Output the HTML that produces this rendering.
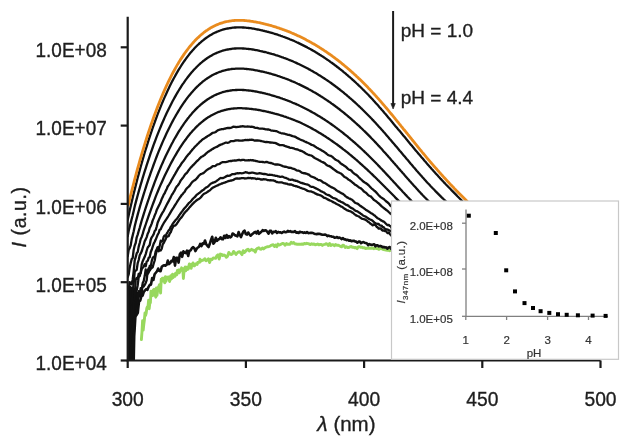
<!DOCTYPE html>
<html><head><meta charset="utf-8"><style>
html,body{margin:0;padding:0;background:#fff;width:632px;height:445px;overflow:hidden}
svg{display:block;filter:blur(0.35px)}
</style></head><body>
<svg width="632" height="445" viewBox="0 0 632 445">
<defs><clipPath id="pc"><rect x="127" y="0" width="480" height="360.5"/></clipPath></defs>
<g clip-path="url(#pc)" fill="none" stroke-linejoin="round" stroke-linecap="round">
<path d="M141.4,339.6 L142.0,331.6 L142.6,320.7 L143.2,330.0 L143.8,324.3 L144.4,319.7 L145.0,312.9 L145.6,315.3 L146.2,313.1 L146.8,308.3 L147.4,306.8 L148.0,306.6 L148.6,300.3 L149.2,308.7 L149.8,303.2 L150.4,302.6 L151.0,291.3 L151.6,293.1 L152.2,295.7 L152.8,293.8 L153.4,289.8 L154.0,289.3 L154.6,295.1 L155.2,295.1 L155.8,297.2 L156.4,287.9 L157.0,295.2 L157.6,290.7 L158.2,287.6 L158.8,286.2 L159.4,284.7 L160.0,287.0 L160.6,293.0 L161.2,279.3 L161.8,280.6 L162.4,278.2 L163.0,281.0 L163.6,278.2 L164.2,280.3 L164.8,282.8 L165.4,276.8 L166.0,281.2 L166.6,278.5 L167.2,277.2 L167.8,277.1 L168.4,277.0 L169.0,278.8 L169.6,281.5 L170.2,276.9 L170.8,275.7 L171.4,279.0 L172.0,277.6 L172.6,274.1 L173.2,277.5 L173.8,274.6 L174.4,275.5 L175.0,276.3 L175.6,273.2 L176.2,273.7 L176.8,274.7 L177.4,270.4 L178.0,272.3 L178.6,270.0 L179.2,272.8 L179.8,271.7 L180.4,269.7 L181.0,270.0 L181.6,267.8 L182.2,270.5 L182.8,268.7 L183.4,278.5 L184.0,271.2 L184.6,268.4 L185.2,267.1 L185.8,270.7 L186.4,267.2 L187.0,269.7 L187.6,268.3 L188.2,269.1 L188.8,266.2 L189.4,264.0 L190.0,265.4 L190.6,266.1 L191.2,268.3 L191.8,264.1 L192.4,265.8 L193.0,262.9 L193.6,264.1 L194.2,265.9 L194.8,265.5 L195.4,264.4 L196.0,263.7 L196.6,264.0 L197.2,264.4 L197.8,262.5 L198.4,262.3 L199.0,262.4 L199.6,262.4 L200.0,259.3 L201.2,260.9 L202.4,260.2 L203.6,260.1 L204.8,258.7 L206.0,260.7 L207.2,260.0 L208.4,258.8 L209.6,262.5 L210.8,259.2 L212.0,259.6 L213.2,258.0 L214.4,258.1 L215.6,258.4 L216.8,255.9 L218.0,254.7 L219.2,259.0 L220.4,254.1 L221.6,254.4 L222.8,255.6 L224.0,254.9 L225.2,255.7 L226.4,257.3 L227.6,256.1 L228.8,252.4 L230.0,253.9 L231.2,254.6 L232.4,253.9 L233.6,251.4 L234.8,252.7 L236.0,254.5 L237.2,252.9 L238.4,252.0 L239.6,251.8 L240.8,253.1 L242.0,254.6 L243.2,250.7 L244.4,252.5 L245.6,251.2 L246.8,249.8 L248.0,249.2 L249.2,250.9 L250.4,250.2 L251.6,249.3 L252.8,250.2 L254.0,250.2 L255.2,252.1 L256.4,249.1 L257.6,248.3 L258.8,247.8 L260.0,249.1 L261.2,249.2 L262.4,248.0 L263.6,248.9 L264.8,247.9 L266.0,247.3 L267.2,246.7 L268.4,246.7 L269.6,246.4 L270.8,245.6 L272.0,244.9 L273.2,244.8 L274.4,246.5 L275.6,245.0 L276.8,246.7 L278.0,244.1 L279.2,245.0 L280.4,244.7 L281.6,243.8 L282.8,243.4 L284.0,243.9 L285.2,245.2 L286.4,243.6 L287.6,244.3 L288.8,244.2 L290.0,244.2 L291.2,242.3 L292.4,243.2 L293.6,242.4 L294.8,243.9 L296.0,244.0 L297.2,244.2 L298.4,244.1 L299.6,244.3 L300.8,244.3 L302.0,244.0 L303.2,244.2 L304.4,243.4 L305.6,243.9 L306.8,243.3 L308.0,243.6 L309.2,244.0 L310.4,244.6 L311.6,243.8 L312.8,244.3 L314.0,244.0 L315.2,244.7 L316.4,244.5 L317.6,244.0 L318.8,244.8 L320.0,244.5 L321.2,244.4 L322.4,245.4 L323.6,244.6 L324.8,244.4 L326.0,243.7 L327.2,244.1 L328.4,245.4 L329.6,243.4 L330.8,245.6 L332.0,244.6 L333.2,244.7 L334.4,245.8 L335.6,244.6 L336.8,245.2 L338.0,245.2 L339.2,245.6 L340.4,246.4 L341.6,246.8 L342.8,245.2 L344.0,245.7 L345.2,247.5 L346.4,246.8 L347.6,247.5 L348.8,247.5 L350.0,246.8 L351.2,246.5 L352.4,247.4 L353.6,247.3 L354.8,247.9 L356.0,247.5 L357.2,248.6 L358.4,246.7 L359.6,246.8 L360.8,247.4 L362.0,247.2 L363.2,247.9 L364.4,247.6 L365.6,248.6 L366.8,248.1 L368.0,248.4 L369.2,248.0 L370.4,248.3 L371.6,248.2 L372.8,248.0 L374.0,248.7 L375.2,247.7 L376.4,248.5 L377.6,248.5 L378.8,249.4 L380.0,248.8 L381.2,248.2 L382.4,249.1 L383.6,249.5 L384.8,249.7 L386.0,250.1 L387.2,250.2 L388.4,250.2 L389.6,250.8 L390.8,250.2" stroke="#98d85e" stroke-width="2.9"/>
<path d="M133.0,396.5 L134.2,336.2 L135.4,316.4 L136.6,314.9 L137.8,312.9 L139.0,301.7 L140.2,300.6 L141.4,296.1 L142.6,295.7 L143.8,291.8 L145.0,290.4 L146.2,289.2 L147.4,289.8 L148.6,286.8 L149.8,284.8 L151.0,284.6 L152.2,278.0 L153.4,279.9 L154.6,274.2 L155.8,272.7 L157.0,271.2 L158.2,268.5 L159.4,271.0 L160.6,271.2 L161.8,266.7 L163.0,265.7 L164.2,265.3 L165.4,265.7 L166.6,265.0 L167.8,260.6 L169.0,264.1 L170.2,263.1 L171.4,260.8 L172.6,261.3 L173.8,257.0 L175.0,265.6 L176.2,257.8 L177.4,257.7 L178.6,262.6 L179.8,254.2 L181.0,252.6 L182.2,256.8 L183.4,251.3 L184.6,252.8 L185.8,253.1 L187.0,250.6 L188.2,255.9 L189.4,250.8 L190.6,250.4 L191.8,248.3 L193.0,247.2 L194.2,248.0 L195.4,251.1 L196.6,248.9 L197.8,247.5 L199.0,246.8 L200.2,243.9 L201.4,246.1 L202.6,243.4 L203.8,244.0 L205.0,240.5 L206.2,244.2 L207.4,245.8 L208.6,247.0 L209.8,243.8 L211.0,239.9 L212.2,236.8 L213.4,243.7 L214.6,242.1 L215.8,237.8 L217.0,240.9 L218.2,239.5 L219.4,239.0 L220.6,237.3 L221.8,239.1 L223.0,239.2 L224.2,235.8 L225.4,238.0 L226.6,235.0 L227.8,237.7 L229.0,236.1 L230.2,237.4 L231.4,236.6 L232.6,233.5 L233.8,234.1 L235.0,235.3 L236.2,235.8 L237.4,236.3 L238.6,232.0 L239.8,234.9 L241.0,237.1 L242.2,234.1 L243.4,231.5 L244.6,230.7 L245.8,234.1 L247.0,234.6 L248.2,232.5 L249.4,234.2 L250.6,235.7 L251.8,234.6 L253.0,233.6 L254.2,232.5 L255.4,231.9 L256.6,233.5 L257.8,231.0 L259.0,233.8 L260.2,232.8 L261.4,231.8 L262.6,230.2 L263.8,231.0 L265.0,230.3 L266.2,230.6 L267.4,232.0 L268.6,233.6 L269.8,230.7 L271.0,230.9 L272.2,233.4 L273.4,231.8 L274.6,232.0 L275.8,231.2 L277.0,233.0 L278.2,231.8 L279.4,232.4 L280.6,232.4 L281.8,233.0 L283.0,232.2 L284.2,231.5 L285.4,232.3 L286.6,231.9 L287.8,230.9 L289.0,231.6 L290.2,231.1 L291.4,231.9 L292.6,231.8 L293.8,231.9 L295.0,231.2 L296.2,232.6 L297.4,232.4 L298.6,233.0 L299.8,231.7 L301.0,232.2 L302.2,232.2 L303.4,232.9 L304.6,232.3 L305.8,233.0 L307.0,232.1 L308.2,233.1 L309.4,233.0 L310.6,232.9 L311.8,232.9 L313.0,233.0 L314.2,233.7 L315.4,234.0 L316.6,234.1 L317.8,233.9 L319.0,233.8 L320.2,234.0 L321.4,234.4 L322.6,234.8 L323.8,234.7 L325.0,234.6 L326.2,234.9 L327.4,236.2 L328.6,235.6 L329.8,236.2 L331.0,236.2 L332.2,236.8 L333.4,236.8 L334.6,237.8 L335.8,237.5 L337.0,237.0 L338.2,237.9 L339.4,237.5 L340.6,238.2 L341.8,239.1 L343.0,238.1 L344.2,239.4 L345.4,239.3 L346.6,240.1 L347.8,239.8 L349.0,240.6 L350.2,240.4 L351.4,241.2 L352.6,240.9 L353.8,240.7 L355.0,241.4 L356.2,241.6 L357.4,242.7 L358.6,241.6 L359.8,241.5 L361.0,243.2 L362.2,242.4 L363.4,242.1 L364.6,242.7 L365.8,243.1 L367.0,243.5 L368.2,245.1 L369.4,244.1 L370.6,244.7 L371.8,244.9 L373.0,244.6 L374.2,244.2 L375.4,246.3 L376.6,245.3 L377.8,245.4 L379.0,246.4 L380.2,245.9 L381.4,246.3 L382.6,247.3 L383.8,246.9 L385.0,247.5 L386.2,247.4 L387.4,248.7 L388.6,247.4 L389.8,247.0 L391.0,248.8" stroke="#111" stroke-width="2.6"/>
<polygon points="126.5,361 126.5,288 129,285 134,288 139,293 139.5,300 136,318 134.5,340 134,361" fill="#111"/>
<path d="M127.7,368.0 L128.7,356.7 L129.7,351.7 L130.7,359.5 L131.7,350.0 L132.7,344.8 L133.7,330.5 L134.7,317.1 L135.7,314.3 L136.7,304.0 L137.7,299.4 L138.7,297.1 L139.7,294.2 L140.7,288.2 L141.7,289.3 L142.7,285.1 L143.7,286.5 L144.7,284.9 L145.7,282.9 L146.7,280.2 L147.7,270.7 L148.7,268.3 L149.7,270.6 L150.7,269.0 L151.7,267.9 L152.7,267.3 L153.7,263.5 L154.7,260.5 L155.7,254.8 L156.7,251.0 L157.7,249.6 L158.7,251.2 L159.7,250.1 L160.7,250.5 L161.7,248.7 L162.7,244.4 L163.7,243.0 L164.7,240.9 L165.7,239.2 L166.7,236.3 L167.7,236.5 L168.7,236.2 L169.7,233.5 L170.7,232.3 L171.7,229.6 L172.7,227.5 L173.7,225.9 L174.7,225.6 L175.7,225.1 L176.7,223.9 L177.7,222.4 L178.7,220.8 L179.7,219.4 L180.7,218.1 L181.7,217.1 L182.7,215.7 L183.7,214.0 L184.7,212.7 L185.7,211.6 L186.7,210.7 L187.7,209.5 L188.7,208.4 L189.7,207.1 L190.7,206.1 L191.7,204.9 L192.7,203.9 L193.7,202.9 L194.7,201.9 L195.7,201.1 L196.7,200.2 L197.7,199.5 L198.7,199.1 L199.7,198.4 L200.7,197.5 L201.7,196.2 L202.7,195.0 L203.7,194.0 L204.7,193.5 L205.7,193.0 L206.7,192.4 L207.7,191.7 L208.7,191.0 L209.7,190.5 L210.7,189.5 L211.7,188.4 L212.7,187.8 L213.7,187.2 L214.7,186.7 L215.7,186.2 L216.7,185.8 L217.7,185.4 L218.7,184.8 L219.7,184.4 L220.7,184.0 L221.7,183.5 L222.7,183.3 L223.7,182.8 L224.7,182.7 L225.7,182.1 L226.7,181.8 L227.7,181.4 L228.7,181.0 L229.7,180.9 L230.7,180.5 L231.7,180.5 L232.7,180.2 L233.7,179.7 L234.7,179.0 L235.7,178.6 L236.7,178.4 L237.7,178.5 L238.7,178.6 L239.7,178.5 L240.7,178.4 L241.7,178.2 L242.7,178.2 L243.7,178.1 L244.7,178.5 L245.7,178.4 L246.7,178.3 L247.7,178.0 L248.7,177.9 L249.7,178.1 L250.7,178.0 L251.7,178.5 L252.7,178.2 L253.7,178.4 L254.7,178.3 L255.7,178.8 L256.7,179.0 L257.7,178.7 L258.7,178.8 L259.7,178.9 L260.7,179.5 L261.7,179.4 L262.7,179.5 L263.7,179.1 L264.7,179.3 L265.7,179.3 L266.7,179.7 L267.7,180.1 L268.7,180.2 L269.7,180.4 L270.7,180.2 L271.7,180.4 L272.7,180.3 L273.7,180.5 L274.7,180.8 L275.7,181.5 L276.7,182.0 L277.7,182.2 L278.7,182.3 L279.7,182.3 L280.7,182.4 L281.7,182.4 L282.7,182.8 L283.7,183.2 L284.7,183.3 L285.7,183.5 L286.7,183.6 L287.7,184.2 L288.7,184.4 L289.7,184.5 L290.7,184.4 L291.7,184.7 L292.7,185.1 L293.7,185.6 L294.7,185.8 L295.7,186.3 L296.7,186.2 L297.7,186.9 L298.7,186.9 L299.7,187.5 L300.7,187.9 L301.7,188.3 L302.7,188.7 L303.7,188.8 L304.7,189.2 L305.7,189.7 L306.7,190.4 L307.7,190.9 L308.7,191.2 L309.7,191.3 L310.7,191.4 L311.7,191.7 L312.7,192.1 L313.7,192.5 L314.7,193.1 L315.7,193.6 L316.7,194.1 L317.7,194.6 L318.7,194.7 L319.7,195.2 L320.7,195.3 L321.7,196.1 L322.7,196.7 L323.7,197.6 L324.7,197.9 L325.7,198.3 L326.7,198.8 L327.7,199.4 L328.7,199.9 L329.7,200.4 L330.7,200.8 L331.7,201.2 L332.7,201.9 L333.7,202.4 L334.7,202.8 L335.7,203.4 L336.7,204.0 L337.7,204.5 L338.7,205.0 L339.7,205.6 L340.7,206.3 L341.7,206.6 L342.7,207.3 L343.7,208.1 L344.7,208.9 L345.7,209.3 L346.7,210.1 L347.7,210.4 L348.7,210.9 L349.7,211.1 L350.7,211.5 L351.7,212.1 L352.7,212.6 L353.7,213.5 L354.7,214.4 L355.7,215.1 L356.7,215.6 L357.7,216.0 L358.7,216.3 L359.7,217.2 L360.7,217.8 L361.7,218.6 L362.7,218.8 L363.7,219.2 L364.7,219.4 L365.7,219.9 L366.7,220.5 L367.7,221.6 L368.7,222.0 L369.7,223.0 L370.7,223.8 L371.7,224.4 L372.7,225.4 L373.7,224.4 L374.7,224.9 L375.7,225.3 L376.7,226.9 L377.7,227.4 L378.7,228.7 L379.7,228.5 L380.7,228.4 L381.7,229.8 L382.7,230.7 L383.7,230.4 L384.7,231.0 L385.7,231.0 L386.7,232.1 L387.7,233.1 L388.7,232.4 L389.7,234.0 L390.7,234.9 L391.7,236.0 L392.7,236.2 L393.7,235.9 L394.7,235.2 L395.7,237.1 L396.7,237.3 L397.7,238.0 L398.7,239.4 L399.7,240.5 L400.7,241.8 L401.7,239.6 L402.7,238.2 L403.7,239.6 L404.7,242.1 L405.7,241.4 L406.7,241.3 L407.7,243.2 L408.7,246.6 L409.7,244.2 L410.7,244.6 L411.7,247.0 L412.7,245.4 L413.7,247.3 L414.7,243.7 L415.7,244.4 L416.7,246.2 L417.7,248.2 L418.7,247.3 L419.7,247.3 L420.7,250.5 L421.7,252.4 L422.7,252.8 L423.7,249.0 L424.7,251.1 L425.7,248.5 L426.7,250.2 L427.7,251.2 L428.7,248.4 L429.7,255.7 L430.7,250.6 L431.7,255.8 L432.7,251.2 L433.7,253.3 L434.7,255.3 L435.7,255.0 L436.7,256.2 L437.7,252.7 L438.7,253.3 L439.7,254.9 L440.7,262.4 L441.7,258.9 L442.7,253.7 L443.7,254.6 L444.7,254.6 L445.7,256.7 L446.7,255.3 L447.7,253.4 L448.7,256.3 L449.7,259.2 L450.7,259.7 L451.7,257.8 L452.7,255.8 L453.7,261.0 L454.7,261.6 L455.7,259.0 L456.7,260.7 L457.7,263.1 L458.7,259.4 L459.7,260.9 L460.7,260.5 L461.7,260.1 L462.7,260.0 L463.7,262.2 L464.7,264.1 L465.7,260.1 L466.7,265.2 L467.7,259.7 L468.7,261.8 L469.7,267.7 L470.7,265.5 L471.7,265.7 L472.7,265.7 L473.7,266.0 L474.7,261.2 L475.7,262.1 L476.7,259.4 L477.7,266.2 L478.7,266.9 L479.7,267.5 L480.7,269.1 L481.7,265.2 L482.7,267.7 L483.7,261.5 L484.7,263.3 L485.7,265.9 L486.7,269.4 L487.7,266.3 L488.7,275.8 L489.7,267.3" stroke="#111" stroke-width="2.3"/>
<path d="M127.7,362.8 L128.7,364.3 L129.7,359.7 L130.7,348.8 L131.7,345.2 L132.7,348.1 L133.7,327.1 L134.7,309.6 L135.7,302.0 L136.7,293.9 L137.7,298.6 L138.7,291.2 L139.7,291.5 L140.7,295.0 L141.7,293.3 L142.7,283.0 L143.7,281.1 L144.7,276.1 L145.7,269.4 L146.7,275.0 L147.7,273.7 L148.7,272.6 L149.7,265.8 L150.7,266.8 L151.7,261.1 L152.7,257.9 L153.7,256.9 L154.7,256.5 L155.7,251.2 L156.7,249.3 L157.7,247.1 L158.7,249.8 L159.7,245.9 L160.7,240.7 L161.7,241.5 L162.7,240.8 L163.7,236.7 L164.7,235.4 L165.7,236.0 L166.7,233.6 L167.7,232.0 L168.7,230.3 L169.7,229.4 L170.7,226.9 L171.7,225.8 L172.7,223.9 L173.7,222.5 L174.7,221.3 L175.7,219.9 L176.7,219.0 L177.7,217.7 L178.7,216.2 L179.7,214.6 L180.7,213.3 L181.7,211.8 L182.7,210.7 L183.7,209.2 L184.7,208.0 L185.7,206.9 L186.7,205.8 L187.7,204.6 L188.7,203.2 L189.7,202.4 L190.7,201.5 L191.7,200.3 L192.7,199.0 L193.7,198.0 L194.7,197.1 L195.7,196.1 L196.7,194.8 L197.7,194.1 L198.7,193.3 L199.7,192.8 L200.7,191.7 L201.7,191.0 L202.7,190.2 L203.7,189.7 L204.7,188.6 L205.7,187.8 L206.7,187.2 L207.7,186.7 L208.7,185.8 L209.7,184.8 L210.7,183.8 L211.7,183.3 L212.7,182.7 L213.7,182.5 L214.7,182.2 L215.7,181.6 L216.7,180.9 L217.7,180.1 L218.7,179.4 L219.7,178.5 L220.7,178.0 L221.7,178.1 L222.7,178.0 L223.7,177.8 L224.7,177.3 L225.7,176.6 L226.7,176.1 L227.7,175.6 L228.7,175.8 L229.7,175.6 L230.7,175.1 L231.7,174.4 L232.7,174.1 L233.7,174.2 L234.7,174.1 L235.7,173.6 L236.7,173.4 L237.7,173.2 L238.7,173.4 L239.7,173.2 L240.7,173.2 L241.7,173.3 L242.7,173.2 L243.7,172.9 L244.7,172.5 L245.7,172.2 L246.7,172.5 L247.7,172.7 L248.7,173.1 L249.7,173.0 L250.7,172.9 L251.7,172.7 L252.7,172.7 L253.7,172.8 L254.7,173.2 L255.7,173.3 L256.7,173.6 L257.7,173.6 L258.7,173.4 L259.7,173.2 L260.7,173.3 L261.7,173.6 L262.7,173.9 L263.7,174.0 L264.7,174.0 L265.7,174.2 L266.7,174.4 L267.7,174.8 L268.7,174.8 L269.7,174.7 L270.7,174.8 L271.7,174.9 L272.7,175.2 L273.7,175.4 L274.7,175.5 L275.7,175.8 L276.7,175.8 L277.7,176.3 L278.7,176.4 L279.7,176.8 L280.7,176.8 L281.7,176.6 L282.7,176.7 L283.7,177.2 L284.7,177.6 L285.7,177.9 L286.7,178.3 L287.7,178.6 L288.7,179.5 L289.7,179.6 L290.7,179.8 L291.7,179.6 L292.7,179.7 L293.7,180.4 L294.7,180.4 L295.7,180.9 L296.7,180.8 L297.7,181.4 L298.7,181.8 L299.7,182.3 L300.7,182.8 L301.7,182.9 L302.7,183.4 L303.7,183.5 L304.7,183.9 L305.7,184.2 L306.7,184.4 L307.7,184.7 L308.7,185.0 L309.7,185.9 L310.7,186.5 L311.7,186.9 L312.7,186.8 L313.7,187.2 L314.7,187.7 L315.7,188.4 L316.7,188.7 L317.7,189.2 L318.7,189.8 L319.7,190.2 L320.7,191.2 L321.7,191.4 L322.7,192.0 L323.7,192.3 L324.7,193.1 L325.7,194.0 L326.7,194.5 L327.7,194.8 L328.7,195.1 L329.7,195.6 L330.7,196.3 L331.7,197.1 L332.7,197.7 L333.7,198.2 L334.7,198.3 L335.7,198.7 L336.7,199.3 L337.7,200.1 L338.7,200.8 L339.7,201.0 L340.7,201.7 L341.7,202.2 L342.7,202.5 L343.7,203.2 L344.7,203.9 L345.7,204.7 L346.7,204.9 L347.7,205.4 L348.7,205.9 L349.7,207.0 L350.7,207.6 L351.7,208.1 L352.7,208.5 L353.7,209.4 L354.7,210.2 L355.7,210.8 L356.7,211.1 L357.7,211.5 L358.7,212.4 L359.7,212.8 L360.7,213.7 L361.7,214.3 L362.7,215.3 L363.7,215.8 L364.7,216.2 L365.7,216.6 L366.7,217.3 L367.7,218.1 L368.7,218.7 L369.7,219.3 L370.7,219.7 L371.7,220.1 L372.7,220.9 L373.7,221.8 L374.7,222.8 L375.7,223.3 L376.7,223.7 L377.7,224.0 L378.7,224.0 L379.7,225.2 L380.7,225.7 L381.7,225.7 L382.7,227.4 L383.7,227.2 L384.7,228.7 L385.7,229.2 L386.7,229.3 L387.7,229.6 L388.7,230.2 L389.7,230.4 L390.7,231.3 L391.7,230.8 L392.7,232.9 L393.7,233.4 L394.7,233.8 L395.7,233.6 L396.7,233.5 L397.7,233.9 L398.7,234.6 L399.7,235.4 L400.7,238.2 L401.7,238.7 L402.7,239.6 L403.7,237.3 L404.7,237.5 L405.7,237.5 L406.7,241.4 L407.7,242.1 L408.7,241.2 L409.7,242.6 L410.7,243.8 L411.7,243.9 L412.7,244.9 L413.7,242.3 L414.7,242.5 L415.7,245.1 L416.7,245.1 L417.7,247.2 L418.7,245.9 L419.7,243.5 L420.7,246.7 L421.7,245.1 L422.7,244.9 L423.7,248.3 L424.7,244.6 L425.7,248.3 L426.7,250.8 L427.7,252.2 L428.7,248.0 L429.7,251.1 L430.7,250.1 L431.7,253.8 L432.7,250.0 L433.7,253.7 L434.7,249.0 L435.7,252.4 L436.7,255.0 L437.7,254.7 L438.7,255.0 L439.7,252.6 L440.7,251.5 L441.7,254.7 L442.7,256.7 L443.7,254.5 L444.7,253.0 L445.7,252.0 L446.7,253.9 L447.7,257.2 L448.7,259.4 L449.7,259.8 L450.7,255.3 L451.7,253.5 L452.7,257.5 L453.7,258.1 L454.7,260.2 L455.7,255.4 L456.7,260.7 L457.7,259.0 L458.7,261.6 L459.7,258.1 L460.7,258.8 L461.7,259.6 L462.7,261.5 L463.7,258.9 L464.7,258.8 L465.7,262.1 L466.7,261.0 L467.7,262.8 L468.7,261.8 L469.7,261.8 L470.7,263.7 L471.7,262.2 L472.7,267.1 L473.7,260.4 L474.7,260.2 L475.7,265.1 L476.7,259.8 L477.7,265.0 L478.7,266.9 L479.7,262.4 L480.7,271.2 L481.7,271.6 L482.7,267.2 L483.7,266.8 L484.7,267.7 L485.7,267.9 L486.7,263.4 L487.7,263.8 L488.7,269.3 L489.7,265.1" stroke="#111" stroke-width="2.3"/>
<path d="M127.7,338.8 L128.7,341.4 L129.7,335.5 L130.7,337.1 L131.7,328.9 L132.7,330.6 L133.7,314.6 L134.7,302.5 L135.7,290.4 L136.7,290.3 L137.7,285.2 L138.7,276.9 L139.7,273.6 L140.7,273.0 L141.7,269.0 L142.7,267.7 L143.7,266.7 L144.7,264.1 L145.7,266.2 L146.7,261.4 L147.7,260.8 L148.7,257.8 L149.7,257.2 L150.7,252.3 L151.7,249.8 L152.7,246.7 L153.7,243.6 L154.7,241.8 L155.7,239.6 L156.7,237.1 L157.7,234.6 L158.7,233.0 L159.7,229.7 L160.7,229.3 L161.7,226.9 L162.7,225.0 L163.7,223.2 L164.7,221.7 L165.7,220.2 L166.7,218.7 L167.7,217.1 L168.7,215.5 L169.7,213.8 L170.7,212.1 L171.7,210.4 L172.7,208.8 L173.7,207.4 L174.7,205.7 L175.7,204.1 L176.7,202.5 L177.7,200.8 L178.7,199.4 L179.7,197.9 L180.7,196.5 L181.7,195.0 L182.7,194.1 L183.7,192.7 L184.7,191.7 L185.7,189.8 L186.7,188.6 L187.7,187.5 L188.7,186.6 L189.7,185.6 L190.7,184.1 L191.7,182.7 L192.7,181.6 L193.7,180.8 L194.7,180.3 L195.7,179.5 L196.7,178.4 L197.7,177.4 L198.7,175.9 L199.7,175.0 L200.7,174.1 L201.7,173.8 L202.7,173.4 L203.7,172.9 L204.7,172.0 L205.7,171.0 L206.7,170.1 L207.7,169.4 L208.7,168.8 L209.7,168.4 L210.7,167.8 L211.7,167.0 L212.7,166.2 L213.7,166.1 L214.7,166.1 L215.7,165.7 L216.7,164.8 L217.7,164.3 L218.7,164.1 L219.7,163.8 L220.7,163.0 L221.7,162.5 L222.7,162.1 L223.7,162.2 L224.7,162.2 L225.7,162.2 L226.7,161.8 L227.7,161.6 L228.7,161.2 L229.7,161.2 L230.7,160.9 L231.7,161.0 L232.7,160.6 L233.7,160.7 L234.7,160.4 L235.7,160.7 L236.7,160.4 L237.7,160.1 L238.7,159.8 L239.7,160.0 L240.7,160.3 L241.7,160.0 L242.7,159.8 L243.7,159.8 L244.7,160.3 L245.7,160.4 L246.7,160.4 L247.7,160.4 L248.7,160.1 L249.7,160.3 L250.7,160.0 L251.7,160.3 L252.7,160.1 L253.7,160.6 L254.7,160.6 L255.7,161.0 L256.7,161.1 L257.7,161.4 L258.7,161.6 L259.7,161.8 L260.7,161.8 L261.7,161.9 L262.7,162.0 L263.7,162.2 L264.7,162.3 L265.7,162.0 L266.7,162.0 L267.7,162.2 L268.7,162.7 L269.7,162.8 L270.7,163.0 L271.7,163.2 L272.7,163.6 L273.7,164.0 L274.7,164.3 L275.7,164.5 L276.7,164.4 L277.7,164.5 L278.7,164.6 L279.7,164.8 L280.7,165.2 L281.7,165.6 L282.7,166.2 L283.7,166.4 L284.7,166.8 L285.7,166.7 L286.7,167.0 L287.7,167.3 L288.7,167.8 L289.7,167.7 L290.7,167.9 L291.7,168.2 L292.7,168.7 L293.7,168.9 L294.7,169.2 L295.7,169.8 L296.7,170.4 L297.7,170.6 L298.7,170.7 L299.7,171.1 L300.7,171.9 L301.7,172.7 L302.7,172.9 L303.7,173.3 L304.7,173.1 L305.7,173.6 L306.7,173.7 L307.7,174.3 L308.7,174.5 L309.7,175.3 L310.7,176.2 L311.7,176.7 L312.7,177.0 L313.7,177.4 L314.7,177.8 L315.7,178.5 L316.7,178.9 L317.7,179.7 L318.7,180.1 L319.7,180.2 L320.7,180.5 L321.7,181.2 L322.7,182.1 L323.7,182.6 L324.7,182.9 L325.7,183.6 L326.7,184.2 L327.7,185.0 L328.7,185.5 L329.7,186.3 L330.7,186.8 L331.7,187.4 L332.7,187.7 L333.7,188.2 L334.7,188.8 L335.7,189.8 L336.7,190.5 L337.7,191.1 L338.7,191.6 L339.7,192.2 L340.7,192.8 L341.7,193.4 L342.7,193.8 L343.7,194.5 L344.7,195.4 L345.7,196.4 L346.7,197.1 L347.7,197.6 L348.7,198.2 L349.7,198.6 L350.7,199.1 L351.7,199.5 L352.7,200.4 L353.7,201.3 L354.7,202.4 L355.7,203.0 L356.7,203.4 L357.7,203.8 L358.7,204.5 L359.7,205.4 L360.7,206.0 L361.7,206.8 L362.7,207.4 L363.7,208.1 L364.7,208.9 L365.7,209.7 L366.7,210.4 L367.7,210.8 L368.7,211.6 L369.7,212.2 L370.7,212.9 L371.7,213.5 L372.7,214.1 L373.7,214.9 L374.7,215.5 L375.7,216.6 L376.7,217.4 L377.7,218.3 L378.7,218.8 L379.7,219.3 L380.7,220.1 L381.7,220.6 L382.7,221.3 L383.7,221.5 L384.7,222.4 L385.7,223.5 L386.7,224.6 L387.7,225.2 L388.7,224.9 L389.7,225.9 L390.7,226.2 L391.7,228.1 L392.7,228.4 L393.7,228.3 L394.7,230.2 L395.7,230.2 L396.7,230.2 L397.7,229.8 L398.7,229.8 L399.7,231.4 L400.7,231.7 L401.7,233.4 L402.7,233.9 L403.7,233.5 L404.7,235.2 L405.7,235.8 L406.7,236.2 L407.7,234.5 L408.7,236.2 L409.7,235.3 L410.7,238.8 L411.7,237.9 L412.7,240.0 L413.7,238.4 L414.7,240.3 L415.7,242.2 L416.7,240.9 L417.7,242.1 L418.7,242.1 L419.7,242.1 L420.7,243.9 L421.7,243.9 L422.7,243.8 L423.7,243.8 L424.7,245.1 L425.7,243.2 L426.7,246.8 L427.7,244.9 L428.7,246.1 L429.7,247.9 L430.7,248.2 L431.7,248.9 L432.7,248.4 L433.7,250.8 L434.7,250.3 L435.7,251.9 L436.7,251.8 L437.7,254.1 L438.7,248.6 L439.7,251.7 L440.7,252.8 L441.7,255.0 L442.7,253.4 L443.7,253.4 L444.7,255.3 L445.7,258.8 L446.7,257.2 L447.7,254.2 L448.7,256.0 L449.7,255.7 L450.7,257.4 L451.7,254.8 L452.7,259.3 L453.7,260.8 L454.7,257.0 L455.7,261.6 L456.7,258.2 L457.7,259.6 L458.7,262.2 L459.7,259.4 L460.7,259.7 L461.7,257.3 L462.7,260.3 L463.7,261.4 L464.7,259.0 L465.7,262.2 L466.7,263.5 L467.7,260.0 L468.7,262.8 L469.7,264.0 L470.7,263.5 L471.7,265.7 L472.7,261.7 L473.7,259.2 L474.7,263.1 L475.7,262.5 L476.7,258.9 L477.7,264.5 L478.7,263.9 L479.7,266.6 L480.7,262.0 L481.7,264.7 L482.7,262.9 L483.7,263.6 L484.7,265.3 L485.7,265.4 L486.7,263.9 L487.7,266.7 L488.7,267.2 L489.7,262.4" stroke="#111" stroke-width="2.3"/>
<path d="M127.7,331.1 L128.7,317.3 L129.7,317.4 L130.7,320.0 L131.7,311.7 L132.7,316.9 L133.7,301.1 L134.7,296.6 L135.7,279.7 L136.7,277.9 L137.7,278.9 L138.7,273.8 L139.7,276.2 L140.7,272.7 L141.7,264.3 L142.7,261.2 L143.7,259.0 L144.7,256.8 L145.7,254.1 L146.7,250.5 L147.7,247.5 L148.7,246.3 L149.7,245.0 L150.7,239.7 L151.7,237.3 L152.7,235.9 L153.7,234.2 L154.7,231.0 L155.7,230.0 L156.7,226.5 L157.7,222.5 L158.7,220.2 L159.7,218.1 L160.7,215.9 L161.7,214.1 L162.7,212.3 L163.7,210.8 L164.7,208.7 L165.7,206.8 L166.7,204.8 L167.7,202.9 L168.7,201.2 L169.7,199.1 L170.7,197.4 L171.7,195.1 L172.7,193.8 L173.7,192.0 L174.7,190.3 L175.7,188.2 L176.7,186.6 L177.7,185.5 L178.7,184.3 L179.7,182.5 L180.7,180.4 L181.7,179.3 L182.7,178.1 L183.7,176.7 L184.7,175.0 L185.7,173.8 L186.7,173.0 L187.7,171.7 L188.7,170.2 L189.7,168.9 L190.7,167.6 L191.7,166.7 L192.7,165.5 L193.7,164.7 L194.7,163.5 L195.7,162.4 L196.7,161.3 L197.7,160.5 L198.7,159.5 L199.7,158.4 L200.7,157.5 L201.7,156.7 L202.7,156.3 L203.7,155.5 L204.7,155.0 L205.7,153.8 L206.7,153.0 L207.7,152.1 L208.7,151.5 L209.7,150.8 L210.7,150.3 L211.7,149.4 L212.7,149.0 L213.7,148.3 L214.7,147.7 L215.7,147.3 L216.7,146.9 L217.7,146.4 L218.7,145.6 L219.7,145.1 L220.7,144.6 L221.7,144.4 L222.7,143.8 L223.7,143.5 L224.7,143.0 L225.7,142.7 L226.7,142.7 L227.7,142.8 L228.7,142.5 L229.7,141.9 L230.7,141.2 L231.7,141.1 L232.7,141.1 L233.7,141.1 L234.7,140.7 L235.7,140.5 L236.7,140.4 L237.7,140.4 L238.7,140.5 L239.7,140.6 L240.7,140.6 L241.7,140.6 L242.7,140.5 L243.7,140.4 L244.7,140.2 L245.7,140.0 L246.7,140.1 L247.7,139.9 L248.7,140.1 L249.7,139.7 L250.7,139.8 L251.7,139.7 L252.7,139.9 L253.7,140.2 L254.7,140.6 L255.7,140.5 L256.7,140.5 L257.7,140.4 L258.7,140.7 L259.7,140.7 L260.7,141.0 L261.7,141.2 L262.7,141.3 L263.7,141.7 L264.7,141.9 L265.7,142.1 L266.7,141.8 L267.7,142.1 L268.7,142.1 L269.7,142.5 L270.7,142.4 L271.7,142.6 L272.7,142.7 L273.7,142.8 L274.7,142.8 L275.7,143.1 L276.7,143.6 L277.7,144.1 L278.7,144.6 L279.7,145.2 L280.7,145.2 L281.7,145.1 L282.7,145.2 L283.7,145.4 L284.7,145.9 L285.7,146.3 L286.7,146.5 L287.7,146.8 L288.7,147.1 L289.7,147.6 L290.7,147.8 L291.7,147.8 L292.7,148.2 L293.7,148.4 L294.7,148.8 L295.7,149.1 L296.7,149.4 L297.7,149.5 L298.7,150.0 L299.7,150.4 L300.7,150.9 L301.7,151.0 L302.7,151.6 L303.7,152.0 L304.7,152.8 L305.7,153.5 L306.7,154.0 L307.7,154.5 L308.7,154.8 L309.7,155.1 L310.7,155.3 L311.7,155.7 L312.7,156.4 L313.7,157.3 L314.7,158.0 L315.7,158.5 L316.7,159.0 L317.7,159.5 L318.7,160.1 L319.7,160.5 L320.7,161.2 L321.7,161.7 L322.7,162.1 L323.7,162.6 L324.7,163.1 L325.7,164.2 L326.7,165.1 L327.7,165.7 L328.7,165.9 L329.7,166.4 L330.7,166.9 L331.7,167.8 L332.7,168.5 L333.7,169.3 L334.7,169.9 L335.7,170.8 L336.7,171.5 L337.7,172.2 L338.7,172.4 L339.7,173.0 L340.7,173.4 L341.7,174.1 L342.7,175.1 L343.7,176.3 L344.7,177.0 L345.7,177.5 L346.7,178.1 L347.7,178.9 L348.7,179.8 L349.7,180.2 L350.7,181.1 L351.7,181.7 L352.7,182.7 L353.7,183.4 L354.7,184.4 L355.7,185.0 L356.7,185.6 L357.7,186.4 L358.7,187.2 L359.7,187.8 L360.7,188.2 L361.7,189.1 L362.7,190.0 L363.7,191.3 L364.7,192.0 L365.7,192.6 L366.7,193.4 L367.7,194.6 L368.7,195.5 L369.7,196.0 L370.7,196.4 L371.7,197.4 L372.7,198.5 L373.7,199.7 L374.7,200.4 L375.7,201.1 L376.7,201.7 L377.7,202.7 L378.7,203.4 L379.7,204.4 L380.7,205.4 L381.7,206.4 L382.7,207.2 L383.7,207.9 L384.7,208.8 L385.7,209.5 L386.7,210.3 L387.7,210.9 L388.7,212.0 L389.7,212.9 L390.7,213.8 L391.7,214.4 L392.7,214.9 L393.7,215.6 L394.7,216.6 L395.7,217.5 L396.7,218.3 L397.7,218.9 L398.7,219.9 L399.7,220.9 L400.7,221.8 L401.7,222.1 L402.7,222.5 L403.7,224.4 L404.7,224.9 L405.7,226.9 L406.7,226.2 L407.7,226.9 L408.7,227.6 L409.7,228.1 L410.7,228.9 L411.7,229.2 L412.7,230.8 L413.7,231.2 L414.7,231.5 L415.7,232.2 L416.7,233.2 L417.7,234.0 L418.7,234.8 L419.7,233.4 L420.7,234.2 L421.7,235.4 L422.7,235.6 L423.7,236.6 L424.7,238.9 L425.7,239.9 L426.7,239.5 L427.7,238.9 L428.7,241.2 L429.7,241.8 L430.7,241.9 L431.7,241.6 L432.7,240.7 L433.7,243.4 L434.7,242.4 L435.7,243.8 L436.7,245.0 L437.7,245.1 L438.7,247.2 L439.7,246.5 L440.7,246.7 L441.7,250.3 L442.7,251.2 L443.7,248.2 L444.7,249.7 L445.7,252.3 L446.7,249.8 L447.7,248.1 L448.7,253.1 L449.7,253.1 L450.7,252.6 L451.7,253.3 L452.7,249.6 L453.7,250.8 L454.7,253.6 L455.7,255.4 L456.7,252.5 L457.7,255.3 L458.7,253.6 L459.7,254.8 L460.7,250.4 L461.7,252.6 L462.7,257.8 L463.7,253.8 L464.7,253.1 L465.7,254.3 L466.7,254.6 L467.7,254.3 L468.7,252.5 L469.7,259.6 L470.7,256.8 L471.7,260.2 L472.7,255.4 L473.7,258.7 L474.7,258.8 L475.7,260.9 L476.7,257.9 L477.7,265.2 L478.7,260.6 L479.7,261.6 L480.7,258.6 L481.7,265.1 L482.7,257.2 L483.7,264.1 L484.7,259.0 L485.7,262.9 L486.7,262.0 L487.7,267.3 L488.7,260.2 L489.7,260.3" stroke="#111" stroke-width="2.3"/>
<path d="M127.7,310.3 L128.7,311.3 L129.7,305.1 L130.7,304.1 L131.7,303.4 L132.7,291.2 L133.7,283.0 L134.7,271.9 L135.7,270.5 L136.7,269.8 L137.7,263.1 L138.7,260.0 L139.7,255.3 L140.7,253.4 L141.7,251.3 L142.7,248.0 L143.7,244.9 L144.7,241.3 L145.7,239.4 L146.7,237.1 L147.7,233.7 L148.7,231.8 L149.7,228.0 L150.7,226.0 L151.7,223.6 L152.7,220.4 L153.7,218.1 L154.7,215.4 L155.7,213.1 L156.7,210.1 L157.7,208.0 L158.7,205.9 L159.7,203.9 L160.7,201.7 L161.7,199.1 L162.7,197.1 L163.7,194.6 L164.7,193.3 L165.7,190.9 L166.7,189.0 L167.7,186.5 L168.7,185.1 L169.7,183.5 L170.7,181.8 L171.7,179.8 L172.7,178.2 L173.7,176.3 L174.7,174.7 L175.7,172.9 L176.7,171.2 L177.7,169.4 L178.7,167.7 L179.7,166.4 L180.7,164.8 L181.7,163.2 L182.7,161.9 L183.7,160.7 L184.7,159.4 L185.7,157.8 L186.7,156.4 L187.7,155.2 L188.7,154.1 L189.7,153.2 L190.7,151.7 L191.7,150.5 L192.7,149.2 L193.7,148.2 L194.7,147.1 L195.7,146.0 L196.7,145.1 L197.7,144.0 L198.7,143.1 L199.7,141.9 L200.7,141.2 L201.7,140.2 L202.7,139.3 L203.7,138.8 L204.7,138.1 L205.7,137.4 L206.7,136.9 L207.7,136.0 L208.7,135.7 L209.7,134.9 L210.7,134.3 L211.7,133.5 L212.7,132.8 L213.7,132.7 L214.7,132.4 L215.7,132.0 L216.7,131.2 L217.7,130.4 L218.7,130.0 L219.7,129.6 L220.7,129.4 L221.7,129.1 L222.7,129.1 L223.7,129.0 L224.7,128.7 L225.7,128.5 L226.7,128.1 L227.7,128.0 L228.7,127.9 L229.7,128.0 L230.7,127.9 L231.7,127.5 L232.7,126.9 L233.7,126.7 L234.7,126.9 L235.7,127.0 L236.7,127.1 L237.7,126.9 L238.7,126.9 L239.7,126.7 L240.7,126.5 L241.7,126.3 L242.7,126.2 L243.7,126.3 L244.7,126.6 L245.7,126.7 L246.7,126.6 L247.7,126.5 L248.7,126.6 L249.7,126.7 L250.7,126.9 L251.7,126.7 L252.7,126.8 L253.7,127.1 L254.7,127.6 L255.7,127.9 L256.7,127.8 L257.7,128.0 L258.7,128.4 L259.7,128.6 L260.7,128.6 L261.7,128.6 L262.7,128.7 L263.7,128.9 L264.7,129.0 L265.7,129.3 L266.7,129.3 L267.7,129.5 L268.7,129.5 L269.7,129.8 L270.7,130.3 L271.7,130.6 L272.7,130.6 L273.7,130.8 L274.7,130.9 L275.7,131.1 L276.7,131.2 L277.7,131.7 L278.7,132.2 L279.7,132.6 L280.7,133.0 L281.7,133.3 L282.7,133.4 L283.7,133.6 L284.7,133.7 L285.7,134.2 L286.7,134.4 L287.7,134.8 L288.7,134.8 L289.7,135.0 L290.7,135.3 L291.7,135.9 L292.7,136.2 L293.7,136.4 L294.7,136.6 L295.7,137.1 L296.7,137.7 L297.7,138.4 L298.7,138.7 L299.7,139.3 L300.7,139.7 L301.7,140.2 L302.7,140.5 L303.7,140.9 L304.7,141.5 L305.7,141.9 L306.7,142.4 L307.7,142.8 L308.7,143.2 L309.7,143.7 L310.7,144.4 L311.7,144.9 L312.7,145.2 L313.7,145.5 L314.7,146.3 L315.7,146.9 L316.7,147.7 L317.7,148.1 L318.7,148.8 L319.7,149.2 L320.7,149.8 L321.7,150.4 L322.7,151.0 L323.7,151.6 L324.7,152.3 L325.7,152.9 L326.7,153.9 L327.7,154.7 L328.7,155.3 L329.7,155.7 L330.7,155.8 L331.7,156.4 L332.7,157.2 L333.7,158.1 L334.7,159.0 L335.7,159.7 L336.7,160.2 L337.7,160.6 L338.7,161.4 L339.7,162.3 L340.7,163.5 L341.7,164.0 L342.7,164.8 L343.7,165.3 L344.7,166.1 L345.7,166.7 L346.7,167.6 L347.7,168.6 L348.7,169.5 L349.7,169.8 L350.7,170.3 L351.7,171.0 L352.7,172.4 L353.7,173.2 L354.7,173.9 L355.7,174.5 L356.7,175.2 L357.7,176.1 L358.7,177.2 L359.7,178.2 L360.7,179.1 L361.7,179.9 L362.7,181.0 L363.7,181.8 L364.7,182.5 L365.7,183.0 L366.7,183.7 L367.7,184.5 L368.7,185.3 L369.7,186.4 L370.7,187.5 L371.7,188.6 L372.7,189.3 L373.7,190.3 L374.7,190.9 L375.7,191.9 L376.7,192.9 L377.7,194.1 L378.7,195.2 L379.7,196.2 L380.7,197.1 L381.7,197.8 L382.7,198.4 L383.7,199.0 L384.7,200.0 L385.7,200.9 L386.7,201.8 L387.7,202.5 L388.7,203.3 L389.7,204.7 L390.7,205.9 L391.7,206.7 L392.7,207.3 L393.7,208.0 L394.7,208.9 L395.7,209.7 L396.7,210.7 L397.7,212.0 L398.7,213.1 L399.7,213.8 L400.7,214.6 L401.7,215.4 L402.7,216.5 L403.7,217.4 L404.7,218.2 L405.7,219.2 L406.7,219.7 L407.7,220.2 L408.7,221.2 L409.7,222.4 L410.7,223.6 L411.7,224.5 L412.7,224.6 L413.7,225.4 L414.7,225.8 L415.7,227.0 L416.7,227.7 L417.7,228.1 L418.7,229.7 L419.7,230.1 L420.7,231.5 L421.7,231.7 L422.7,231.8 L423.7,233.4 L424.7,234.5 L425.7,233.6 L426.7,233.4 L427.7,234.9 L428.7,236.2 L429.7,236.8 L430.7,236.6 L431.7,237.7 L432.7,240.3 L433.7,239.5 L434.7,240.4 L435.7,239.6 L436.7,241.1 L437.7,240.5 L438.7,240.3 L439.7,242.6 L440.7,242.3 L441.7,245.1 L442.7,244.6 L443.7,245.0 L444.7,242.5 L445.7,245.4 L446.7,247.5 L447.7,246.2 L448.7,246.9 L449.7,244.4 L450.7,247.9 L451.7,247.8 L452.7,249.8 L453.7,248.5 L454.7,249.9 L455.7,248.9 L456.7,249.0 L457.7,253.4 L458.7,253.8 L459.7,257.9 L460.7,254.3 L461.7,255.4 L462.7,254.3 L463.7,254.1 L464.7,253.5 L465.7,255.6 L466.7,257.2 L467.7,256.0 L468.7,256.8 L469.7,256.6 L470.7,254.2 L471.7,257.6 L472.7,256.7 L473.7,258.5 L474.7,261.5 L475.7,255.5 L476.7,259.6 L477.7,262.0 L478.7,262.6 L479.7,261.4 L480.7,259.1 L481.7,262.2 L482.7,261.0 L483.7,255.6 L484.7,259.4 L485.7,255.8 L486.7,255.6 L487.7,258.8 L488.7,259.5 L489.7,256.5" stroke="#111" stroke-width="2.3"/>
<path d="M127.7,296.6 L128.7,291.3 L129.7,282.2 L130.7,283.0 L131.7,284.3 L132.7,279.5 L133.7,271.2 L134.7,260.4 L135.7,257.2 L136.7,253.3 L137.7,252.1 L138.7,246.6 L139.7,243.0 L140.7,239.0 L141.7,236.9 L142.7,233.9 L143.7,230.3 L144.7,227.4 L145.7,224.5 L146.7,221.5 L147.7,218.6 L148.7,215.7 L149.7,212.9 L150.7,210.1 L151.7,207.4 L152.7,204.7 L153.7,202.0 L154.7,199.3 L155.7,196.6 L156.7,194.1 L157.7,191.7 L158.7,189.3 L159.7,186.9 L160.7,184.6 L161.7,182.4 L162.7,180.2 L163.7,178.0 L164.7,175.8 L165.7,173.7 L166.7,171.7 L167.7,169.7 L168.7,167.7 L169.7,165.7 L170.7,163.8 L171.7,161.9 L172.7,160.1 L173.7,158.3 L174.7,156.5 L175.7,154.8 L176.7,153.1 L177.7,151.4 L178.7,149.8 L179.7,148.2 L180.7,146.7 L181.7,145.2 L182.7,143.7 L183.7,142.2 L184.7,140.8 L185.7,139.5 L186.7,138.1 L187.7,136.8 L188.7,135.6 L189.7,134.3 L190.7,133.1 L191.7,132.0 L192.7,130.8 L193.7,129.7 L194.7,128.7 L195.7,127.6 L196.7,126.6 L197.7,125.7 L198.7,124.7 L199.7,123.8 L200.7,123.0 L201.7,122.1 L202.7,121.3 L203.7,120.5 L204.7,119.7 L205.7,119.0 L206.7,118.3 L207.7,117.6 L208.7,117.0 L209.7,116.4 L210.7,115.8 L211.7,115.2 L212.7,114.7 L213.7,114.2 L214.7,113.7 L215.7,113.2 L216.7,112.8 L217.7,112.3 L218.7,111.9 L219.7,111.6 L220.7,111.2 L221.7,110.9 L222.7,110.6 L223.7,110.3 L224.7,110.0 L225.7,109.8 L226.7,109.5 L227.7,109.3 L228.7,109.1 L229.7,109.0 L230.7,108.8 L231.7,108.7 L232.7,108.6 L233.7,108.5 L234.7,108.4 L235.7,108.3 L236.7,108.3 L237.7,108.2 L238.7,108.2 L239.7,108.2 L240.7,108.2 L241.7,108.2 L242.7,108.3 L243.7,108.3 L244.7,108.4 L245.7,108.5 L246.7,108.5 L247.7,108.6 L248.7,108.7 L249.7,108.8 L250.7,108.9 L251.7,109.0 L252.7,109.1 L253.7,109.3 L254.7,109.4 L255.7,109.5 L256.7,109.7 L257.7,109.9 L258.7,110.0 L259.7,110.2 L260.7,110.4 L261.7,110.6 L262.7,110.8 L263.7,111.0 L264.7,111.2 L265.7,111.4 L266.7,111.6 L267.7,111.8 L268.7,112.0 L269.7,112.3 L270.7,112.5 L271.7,112.8 L272.7,113.0 L273.7,113.3 L274.7,113.6 L275.7,113.8 L276.7,114.1 L277.7,114.4 L278.7,114.7 L279.7,115.0 L280.7,115.3 L281.7,115.6 L282.7,115.9 L283.7,116.3 L284.7,116.6 L285.7,116.9 L286.7,117.3 L287.7,117.6 L288.7,118.0 L289.7,118.3 L290.7,118.7 L291.7,119.1 L292.7,119.5 L293.7,119.9 L294.7,120.3 L295.7,120.7 L296.7,121.1 L297.7,121.5 L298.7,121.9 L299.7,122.3 L300.7,122.8 L301.7,123.3 L302.7,123.8 L303.7,124.2 L304.7,124.7 L305.7,125.2 L306.7,125.7 L307.7,126.2 L308.7,126.8 L309.7,127.3 L310.7,127.8 L311.7,128.4 L312.7,128.9 L313.7,129.5 L314.7,130.0 L315.7,130.6 L316.7,131.2 L317.7,131.8 L318.7,132.4 L319.7,133.0 L320.7,133.6 L321.7,134.2 L322.7,134.8 L323.7,135.5 L324.7,136.1 L325.7,136.7 L326.7,137.4 L327.7,138.0 L328.7,138.7 L329.7,139.4 L330.7,140.1 L331.7,140.8 L332.7,141.5 L333.7,142.2 L334.7,142.9 L335.7,143.6 L336.7,144.3 L337.7,145.0 L338.7,145.8 L339.7,146.5 L340.7,147.3 L341.7,148.0 L342.7,148.8 L343.7,149.6 L344.7,150.3 L345.7,151.1 L346.7,151.9 L347.7,152.7 L348.7,153.5 L349.7,154.4 L350.7,155.2 L351.7,156.0 L352.7,156.8 L353.7,157.7 L354.7,158.5 L355.7,159.4 L356.7,160.2 L357.7,161.1 L358.7,162.0 L359.7,162.9 L360.7,163.8 L361.7,164.7 L362.7,165.6 L363.7,166.5 L364.7,167.4 L365.7,168.3 L366.7,169.2 L367.7,170.1 L368.7,171.1 L369.7,172.0 L370.7,173.0 L371.7,173.9 L372.7,174.9 L373.7,175.9 L374.7,176.8 L375.7,177.8 L376.7,178.8 L377.7,179.8 L378.7,180.7 L379.7,181.7 L380.7,182.7 L381.7,183.7 L382.7,184.7 L383.7,185.7 L384.7,186.7 L385.7,187.8 L386.7,188.8 L387.7,189.8 L388.7,190.8 L389.7,191.8 L390.7,192.8 L391.7,193.8 L392.7,194.8 L393.7,195.8 L394.7,196.8 L395.7,197.9 L396.7,198.9 L397.7,199.9 L398.7,200.9 L399.7,201.9 L400.7,202.9 L401.7,203.8 L402.7,204.8 L403.7,205.8 L404.7,206.8 L405.7,207.7 L406.7,208.7 L407.7,209.7 L408.7,210.6 L409.7,211.6 L410.7,212.5 L411.7,213.4 L412.7,214.4 L413.7,215.3 L414.7,216.2 L415.7,217.1 L416.7,218.0 L417.7,218.8 L418.7,219.7 L419.7,220.6 L420.7,221.6 L421.7,222.4 L422.7,223.0 L423.7,224.2 L424.7,225.1 L425.7,225.6 L426.7,226.4 L427.7,227.0 L428.7,227.3 L429.7,228.0 L430.7,227.8 L431.7,229.6 L432.7,230.6 L433.7,231.7 L434.7,231.9 L435.7,232.6 L436.7,232.8 L437.7,233.4 L438.7,235.9 L439.7,237.7 L440.7,235.4 L441.7,236.9 L442.7,238.8 L443.7,237.8 L444.7,239.5 L445.7,239.0 L446.7,239.7 L447.7,241.7 L448.7,242.1 L449.7,241.0 L450.7,243.6 L451.7,242.7 L452.7,242.8 L453.7,243.2 L454.7,245.4 L455.7,244.4 L456.7,246.2 L457.7,248.1 L458.7,246.6 L459.7,249.1 L460.7,245.0 L461.7,249.7 L462.7,250.3 L463.7,253.5 L464.7,251.0 L465.7,252.4 L466.7,251.7 L467.7,250.6 L468.7,251.6 L469.7,252.1 L470.7,255.0 L471.7,252.6 L472.7,254.3 L473.7,255.5 L474.7,255.7 L475.7,256.6 L476.7,259.0 L477.7,254.8 L478.7,255.8 L479.7,257.5 L480.7,258.9 L481.7,257.3 L482.7,255.0 L483.7,258.4 L484.7,256.8 L485.7,262.5 L486.7,257.0 L487.7,261.1 L488.7,261.6 L489.7,261.3" stroke="#111" stroke-width="2.3"/>
<path d="M127.7,277.2 L128.7,274.3 L129.7,267.7 L130.7,263.0 L131.7,259.1 L132.7,258.0 L133.7,249.7 L134.7,245.5 L135.7,243.0 L136.7,237.3 L137.7,234.6 L138.7,231.0 L139.7,227.8 L140.7,224.1 L141.7,220.5 L142.7,217.3 L143.7,214.1 L144.7,211.0 L145.7,207.9 L146.7,204.9 L147.7,201.9 L148.7,199.0 L149.7,196.1 L150.7,193.2 L151.7,190.4 L152.7,187.7 L153.7,185.0 L154.7,182.2 L155.7,179.6 L156.7,177.0 L157.7,174.5 L158.7,172.0 L159.7,169.6 L160.7,167.2 L161.7,164.9 L162.7,162.7 L163.7,160.4 L164.7,158.2 L165.7,156.1 L166.7,154.0 L167.7,151.9 L168.7,149.9 L169.7,147.9 L170.7,145.9 L171.7,144.0 L172.7,142.2 L173.7,140.3 L174.7,138.5 L175.7,136.8 L176.7,135.1 L177.7,133.4 L178.7,131.7 L179.7,130.1 L180.7,128.6 L181.7,127.0 L182.7,125.6 L183.7,124.1 L184.7,122.7 L185.7,121.3 L186.7,120.0 L187.7,118.6 L188.7,117.4 L189.7,116.1 L190.7,114.9 L191.7,113.8 L192.7,112.6 L193.7,111.5 L194.7,110.4 L195.7,109.4 L196.7,108.4 L197.7,107.4 L198.7,106.5 L199.7,105.6 L200.7,104.7 L201.7,103.8 L202.7,103.0 L203.7,102.2 L204.7,101.5 L205.7,100.7 L206.7,100.0 L207.7,99.3 L208.7,98.7 L209.7,98.1 L210.7,97.5 L211.7,96.9 L212.7,96.4 L213.7,95.8 L214.7,95.3 L215.7,94.9 L216.7,94.4 L217.7,94.0 L218.7,93.6 L219.7,93.2 L220.7,92.9 L221.7,92.5 L222.7,92.2 L223.7,91.9 L224.7,91.7 L225.7,91.4 L226.7,91.2 L227.7,91.0 L228.7,90.8 L229.7,90.6 L230.7,90.5 L231.7,90.4 L232.7,90.2 L233.7,90.1 L234.7,90.1 L235.7,90.0 L236.7,90.0 L237.7,89.9 L238.7,89.9 L239.7,89.9 L240.7,89.9 L241.7,89.9 L242.7,90.0 L243.7,90.0 L244.7,90.1 L245.7,90.2 L246.7,90.3 L247.7,90.4 L248.7,90.5 L249.7,90.6 L250.7,90.7 L251.7,90.9 L252.7,91.0 L253.7,91.2 L254.7,91.4 L255.7,91.5 L256.7,91.7 L257.7,91.9 L258.7,92.1 L259.7,92.3 L260.7,92.5 L261.7,92.7 L262.7,93.0 L263.7,93.2 L264.7,93.4 L265.7,93.7 L266.7,93.9 L267.7,94.2 L268.7,94.4 L269.7,94.7 L270.7,95.0 L271.7,95.3 L272.7,95.6 L273.7,95.9 L274.7,96.2 L275.7,96.5 L276.7,96.8 L277.7,97.1 L278.7,97.4 L279.7,97.7 L280.7,98.1 L281.7,98.4 L282.7,98.8 L283.7,99.1 L284.7,99.5 L285.7,99.9 L286.7,100.2 L287.7,100.6 L288.7,101.0 L289.7,101.4 L290.7,101.8 L291.7,102.2 L292.7,102.7 L293.7,103.1 L294.7,103.5 L295.7,103.9 L296.7,104.4 L297.7,104.8 L298.7,105.3 L299.7,105.8 L300.7,106.2 L301.7,106.7 L302.7,107.2 L303.7,107.7 L304.7,108.2 L305.7,108.7 L306.7,109.2 L307.7,109.7 L308.7,110.3 L309.7,110.8 L310.7,111.4 L311.7,111.9 L312.7,112.5 L313.7,113.0 L314.7,113.6 L315.7,114.2 L316.7,114.8 L317.7,115.4 L318.7,116.0 L319.7,116.6 L320.7,117.2 L321.7,117.8 L322.7,118.5 L323.7,119.1 L324.7,119.7 L325.7,120.4 L326.7,121.1 L327.7,121.7 L328.7,122.4 L329.7,123.1 L330.7,123.8 L331.7,124.5 L332.7,125.2 L333.7,125.9 L334.7,126.6 L335.7,127.4 L336.7,128.1 L337.7,128.9 L338.7,129.6 L339.7,130.4 L340.7,131.1 L341.7,131.9 L342.7,132.7 L343.7,133.5 L344.7,134.3 L345.7,135.1 L346.7,135.9 L347.7,136.7 L348.7,137.6 L349.7,138.4 L350.7,139.3 L351.7,140.1 L352.7,141.0 L353.7,141.8 L354.7,142.7 L355.7,143.6 L356.7,144.5 L357.7,145.4 L358.7,146.3 L359.7,147.2 L360.7,148.1 L361.7,149.0 L362.7,150.0 L363.7,150.9 L364.7,151.9 L365.7,152.8 L366.7,153.8 L367.7,154.7 L368.7,155.7 L369.7,156.7 L370.7,157.7 L371.7,158.7 L372.7,159.7 L373.7,160.7 L374.7,161.7 L375.7,162.7 L376.7,163.8 L377.7,164.8 L378.7,165.9 L379.7,166.9 L380.7,168.0 L381.7,169.0 L382.7,170.1 L383.7,171.1 L384.7,172.2 L385.7,173.3 L386.7,174.4 L387.7,175.4 L388.7,176.5 L389.7,177.6 L390.7,178.7 L391.7,179.8 L392.7,180.8 L393.7,181.9 L394.7,183.0 L395.7,184.1 L396.7,185.2 L397.7,186.3 L398.7,187.4 L399.7,188.4 L400.7,189.5 L401.7,190.6 L402.7,191.7 L403.7,192.7 L404.7,193.8 L405.7,194.9 L406.7,195.9 L407.7,197.0 L408.7,198.0 L409.7,199.1 L410.7,200.1 L411.7,201.2 L412.7,202.2 L413.7,203.2 L414.7,204.2 L415.7,205.3 L416.7,206.3 L417.7,207.3 L418.7,208.2 L419.7,209.2 L420.7,210.2 L421.7,211.2 L422.7,212.1 L423.7,213.0 L424.7,214.0 L425.7,214.9 L426.7,215.8 L427.7,216.7 L428.7,217.6 L429.7,218.5 L430.7,219.4 L431.7,220.1 L432.7,221.1 L433.7,221.8 L434.7,222.4 L435.7,223.3 L436.7,224.3 L437.7,225.3 L438.7,226.3 L439.7,226.9 L440.7,226.7 L441.7,229.2 L442.7,229.9 L443.7,230.6 L444.7,231.2 L445.7,232.7 L446.7,234.9 L447.7,233.7 L448.7,235.1 L449.7,234.8 L450.7,235.5 L451.7,235.2 L452.7,235.4 L453.7,235.5 L454.7,238.2 L455.7,238.1 L456.7,238.0 L457.7,238.6 L458.7,238.8 L459.7,241.3 L460.7,240.5 L461.7,242.1 L462.7,241.9 L463.7,242.1 L464.7,244.6 L465.7,243.9 L466.7,245.2 L467.7,248.6 L468.7,249.5 L469.7,247.6 L470.7,247.0 L471.7,247.3 L472.7,247.0 L473.7,251.8 L474.7,247.6 L475.7,250.0 L476.7,247.8 L477.7,249.0 L478.7,253.0 L479.7,253.0 L480.7,253.2 L481.7,252.4 L482.7,253.3 L483.7,254.3 L484.7,254.9 L485.7,256.4 L486.7,257.2 L487.7,255.1 L488.7,254.2 L489.7,253.6" stroke="#111" stroke-width="2.3"/>
<path d="M127.7,256.2 L128.7,249.9 L129.7,248.2 L130.7,245.4 L131.7,239.4 L132.7,235.4 L133.7,231.3 L134.7,226.2 L135.7,222.2 L136.7,218.4 L137.7,214.6 L138.7,211.0 L139.7,207.4 L140.7,204.0 L141.7,200.7 L142.7,197.4 L143.7,194.1 L144.7,191.0 L145.7,187.8 L146.7,184.7 L147.7,181.7 L148.7,178.7 L149.7,175.8 L150.7,172.9 L151.7,170.1 L152.7,167.3 L153.7,164.5 L154.7,161.8 L155.7,159.1 L156.7,156.5 L157.7,153.9 L158.7,151.4 L159.7,149.0 L160.7,146.6 L161.7,144.2 L162.7,141.9 L163.7,139.6 L164.7,137.4 L165.7,135.2 L166.7,133.1 L167.7,131.0 L168.7,128.9 L169.7,126.9 L170.7,124.9 L171.7,123.0 L172.7,121.1 L173.7,119.3 L174.7,117.5 L175.7,115.7 L176.7,114.0 L177.7,112.3 L178.7,110.6 L179.7,109.0 L180.7,107.4 L181.7,105.9 L182.7,104.4 L183.7,102.9 L184.7,101.5 L185.7,100.1 L186.7,98.7 L187.7,97.4 L188.7,96.1 L189.7,94.9 L190.7,93.7 L191.7,92.5 L192.7,91.4 L193.7,90.3 L194.7,89.2 L195.7,88.1 L196.7,87.1 L197.7,86.2 L198.7,85.2 L199.7,84.3 L200.7,83.4 L201.7,82.6 L202.7,81.7 L203.7,80.9 L204.7,80.2 L205.7,79.4 L206.7,78.7 L207.7,78.0 L208.7,77.4 L209.7,76.8 L210.7,76.2 L211.7,75.6 L212.7,75.0 L213.7,74.5 L214.7,74.0 L215.7,73.6 L216.7,73.1 L217.7,72.7 L218.7,72.3 L219.7,71.9 L220.7,71.6 L221.7,71.2 L222.7,70.9 L223.7,70.6 L224.7,70.4 L225.7,70.1 L226.7,69.9 L227.7,69.7 L228.7,69.5 L229.7,69.3 L230.7,69.2 L231.7,69.0 L232.7,68.9 L233.7,68.8 L234.7,68.8 L235.7,68.7 L236.7,68.6 L237.7,68.6 L238.7,68.6 L239.7,68.6 L240.7,68.6 L241.7,68.6 L242.7,68.7 L243.7,68.7 L244.7,68.8 L245.7,68.9 L246.7,69.0 L247.7,69.1 L248.7,69.2 L249.7,69.3 L250.7,69.4 L251.7,69.6 L252.7,69.7 L253.7,69.9 L254.7,70.1 L255.7,70.3 L256.7,70.4 L257.7,70.6 L258.7,70.8 L259.7,71.0 L260.7,71.3 L261.7,71.5 L262.7,71.7 L263.7,71.9 L264.7,72.2 L265.7,72.4 L266.7,72.7 L267.7,72.9 L268.7,73.2 L269.7,73.5 L270.7,73.7 L271.7,74.0 L272.7,74.3 L273.7,74.6 L274.7,74.9 L275.7,75.2 L276.7,75.5 L277.7,75.9 L278.7,76.2 L279.7,76.5 L280.7,76.9 L281.7,77.2 L282.7,77.6 L283.7,77.9 L284.7,78.3 L285.7,78.7 L286.7,79.0 L287.7,79.4 L288.7,79.8 L289.7,80.2 L290.7,80.6 L291.7,81.1 L292.7,81.5 L293.7,81.9 L294.7,82.3 L295.7,82.8 L296.7,83.2 L297.7,83.7 L298.7,84.1 L299.7,84.6 L300.7,85.1 L301.7,85.6 L302.7,86.1 L303.7,86.6 L304.7,87.1 L305.7,87.6 L306.7,88.1 L307.7,88.6 L308.7,89.2 L309.7,89.7 L310.7,90.3 L311.7,90.8 L312.7,91.4 L313.7,92.0 L314.7,92.5 L315.7,93.1 L316.7,93.7 L317.7,94.3 L318.7,94.9 L319.7,95.5 L320.7,96.2 L321.7,96.8 L322.7,97.4 L323.7,98.1 L324.7,98.8 L325.7,99.4 L326.7,100.1 L327.7,100.8 L328.7,101.5 L329.7,102.1 L330.7,102.8 L331.7,103.6 L332.7,104.3 L333.7,105.0 L334.7,105.7 L335.7,106.5 L336.7,107.2 L337.7,108.0 L338.7,108.7 L339.7,109.5 L340.7,110.3 L341.7,111.1 L342.7,111.9 L343.7,112.7 L344.7,113.5 L345.7,114.3 L346.7,115.1 L347.7,116.0 L348.7,116.8 L349.7,117.7 L350.7,118.5 L351.7,119.4 L352.7,120.3 L353.7,121.2 L354.7,122.1 L355.7,123.0 L356.7,123.9 L357.7,124.8 L358.7,125.7 L359.7,126.6 L360.7,127.6 L361.7,128.5 L362.7,129.5 L363.7,130.5 L364.7,131.4 L365.7,132.4 L366.7,133.4 L367.7,134.4 L368.7,135.4 L369.7,136.4 L370.7,137.4 L371.7,138.5 L372.7,139.5 L373.7,140.5 L374.7,141.6 L375.7,142.6 L376.7,143.7 L377.7,144.8 L378.7,145.9 L379.7,146.9 L380.7,148.0 L381.7,149.1 L382.7,150.2 L383.7,151.4 L384.7,152.5 L385.7,153.6 L386.7,154.7 L387.7,155.8 L388.7,157.0 L389.7,158.1 L390.7,159.2 L391.7,160.4 L392.7,161.5 L393.7,162.7 L394.7,163.8 L395.7,165.0 L396.7,166.1 L397.7,167.3 L398.7,168.4 L399.7,169.5 L400.7,170.7 L401.7,171.8 L402.7,173.0 L403.7,174.1 L404.7,175.3 L405.7,176.4 L406.7,177.6 L407.7,178.7 L408.7,179.8 L409.7,181.0 L410.7,182.1 L411.7,183.2 L412.7,184.3 L413.7,185.4 L414.7,186.5 L415.7,187.6 L416.7,188.7 L417.7,189.8 L418.7,190.9 L419.7,192.0 L420.7,193.1 L421.7,194.1 L422.7,195.2 L423.7,196.2 L424.7,197.3 L425.7,198.3 L426.7,199.3 L427.7,200.3 L428.7,201.3 L429.7,202.3 L430.7,203.3 L431.7,204.3 L432.7,205.3 L433.7,206.2 L434.7,207.2 L435.7,208.1 L436.7,209.1 L437.7,210.0 L438.7,210.9 L439.7,211.8 L440.7,212.8 L441.7,213.6 L442.7,214.5 L443.7,215.4 L444.7,216.3 L445.7,217.1 L446.7,217.9 L447.7,218.8 L448.7,219.6 L449.7,220.4 L450.7,221.4 L451.7,222.2 L452.7,223.1 L453.7,223.7 L454.7,225.3 L455.7,225.7 L456.7,226.2 L457.7,226.6 L458.7,227.6 L459.7,227.9 L460.7,229.7 L461.7,229.8 L462.7,230.3 L463.7,231.9 L464.7,230.9 L465.7,233.3 L466.7,234.0 L467.7,235.8 L468.7,236.4 L469.7,234.6 L470.7,235.8 L471.7,237.0 L472.7,238.2 L473.7,238.4 L474.7,240.2 L475.7,239.4 L476.7,240.9 L477.7,240.4 L478.7,241.5 L479.7,241.4 L480.7,242.2 L481.7,242.2 L482.7,243.0 L483.7,243.9 L484.7,243.8 L485.7,245.4 L486.7,246.3 L487.7,246.5 L488.7,244.9 L489.7,247.7" stroke="#111" stroke-width="2.3"/>
<path d="M127.7,236.2 L128.7,230.7 L129.7,226.8 L130.7,222.9 L131.7,219.0 L132.7,215.2 L133.7,210.9 L134.7,206.6 L135.7,202.6 L136.7,198.9 L137.7,195.3 L138.7,191.6 L139.7,188.1 L140.7,184.6 L141.7,181.3 L142.7,177.9 L143.7,174.7 L144.7,171.4 L145.7,168.3 L146.7,165.2 L147.7,162.1 L148.7,159.1 L149.7,156.1 L150.7,153.2 L151.7,150.3 L152.7,147.5 L153.7,144.7 L154.7,142.0 L155.7,139.3 L156.7,136.7 L157.7,134.1 L158.7,131.6 L159.7,129.1 L160.7,126.7 L161.7,124.3 L162.7,122.0 L163.7,119.7 L164.7,117.4 L165.7,115.2 L166.7,113.1 L167.7,111.0 L168.7,108.9 L169.7,106.9 L170.7,104.9 L171.7,102.9 L172.7,101.0 L173.7,99.2 L174.7,97.4 L175.7,95.6 L176.7,93.8 L177.7,92.1 L178.7,90.5 L179.7,88.9 L180.7,87.3 L181.7,85.7 L182.7,84.2 L183.7,82.8 L184.7,81.3 L185.7,79.9 L186.7,78.6 L187.7,77.3 L188.7,76.0 L189.7,74.7 L190.7,73.5 L191.7,72.3 L192.7,71.2 L193.7,70.1 L194.7,69.0 L195.7,68.0 L196.7,66.9 L197.7,66.0 L198.7,65.0 L199.7,64.1 L200.7,63.2 L201.7,62.4 L202.7,61.5 L203.7,60.7 L204.7,60.0 L205.7,59.2 L206.7,58.5 L207.7,57.8 L208.7,57.2 L209.7,56.6 L210.7,56.0 L211.7,55.4 L212.7,54.8 L213.7,54.3 L214.7,53.8 L215.7,53.4 L216.7,52.9 L217.7,52.5 L218.7,52.1 L219.7,51.7 L220.7,51.4 L221.7,51.0 L222.7,50.7 L223.7,50.4 L224.7,50.2 L225.7,49.9 L226.7,49.7 L227.7,49.5 L228.7,49.3 L229.7,49.1 L230.7,49.0 L231.7,48.8 L232.7,48.7 L233.7,48.6 L234.7,48.5 L235.7,48.5 L236.7,48.4 L237.7,48.4 L238.7,48.4 L239.7,48.4 L240.7,48.4 L241.7,48.4 L242.7,48.5 L243.7,48.5 L244.7,48.6 L245.7,48.7 L246.7,48.8 L247.7,48.9 L248.7,49.0 L249.7,49.1 L250.7,49.2 L251.7,49.4 L252.7,49.5 L253.7,49.7 L254.7,49.9 L255.7,50.1 L256.7,50.2 L257.7,50.4 L258.7,50.6 L259.7,50.9 L260.7,51.1 L261.7,51.3 L262.7,51.5 L263.7,51.8 L264.7,52.0 L265.7,52.2 L266.7,52.5 L267.7,52.8 L268.7,53.0 L269.7,53.3 L270.7,53.6 L271.7,53.9 L272.7,54.1 L273.7,54.4 L274.7,54.7 L275.7,55.1 L276.7,55.4 L277.7,55.7 L278.7,56.0 L279.7,56.4 L280.7,56.7 L281.7,57.1 L282.7,57.4 L283.7,57.8 L284.7,58.1 L285.7,58.5 L286.7,58.9 L287.7,59.3 L288.7,59.7 L289.7,60.1 L290.7,60.5 L291.7,60.9 L292.7,61.3 L293.7,61.8 L294.7,62.2 L295.7,62.6 L296.7,63.1 L297.7,63.6 L298.7,64.0 L299.7,64.5 L300.7,65.0 L301.7,65.5 L302.7,66.0 L303.7,66.5 L304.7,67.0 L305.7,67.5 L306.7,68.0 L307.7,68.5 L308.7,69.1 L309.7,69.6 L310.7,70.2 L311.7,70.7 L312.7,71.3 L313.7,71.9 L314.7,72.5 L315.7,73.0 L316.7,73.6 L317.7,74.3 L318.7,74.9 L319.7,75.5 L320.7,76.1 L321.7,76.8 L322.7,77.4 L323.7,78.0 L324.7,78.7 L325.7,79.4 L326.7,80.1 L327.7,80.7 L328.7,81.4 L329.7,82.1 L330.7,82.8 L331.7,83.5 L332.7,84.3 L333.7,85.0 L334.7,85.7 L335.7,86.5 L336.7,87.2 L337.7,88.0 L338.7,88.8 L339.7,89.5 L340.7,90.3 L341.7,91.1 L342.7,91.9 L343.7,92.7 L344.7,93.6 L345.7,94.4 L346.7,95.2 L347.7,96.1 L348.7,96.9 L349.7,97.8 L350.7,98.6 L351.7,99.5 L352.7,100.4 L353.7,101.3 L354.7,102.2 L355.7,103.1 L356.7,104.0 L357.7,105.0 L358.7,105.9 L359.7,106.8 L360.7,107.8 L361.7,108.7 L362.7,109.7 L363.7,110.7 L364.7,111.7 L365.7,112.7 L366.7,113.7 L367.7,114.7 L368.7,115.7 L369.7,116.7 L370.7,117.8 L371.7,118.8 L372.7,119.9 L373.7,120.9 L374.7,122.0 L375.7,123.1 L376.7,124.2 L377.7,125.3 L378.7,126.4 L379.7,127.5 L380.7,128.6 L381.7,129.7 L382.7,130.8 L383.7,132.0 L384.7,133.1 L385.7,134.2 L386.7,135.4 L387.7,136.6 L388.7,137.7 L389.7,138.9 L390.7,140.0 L391.7,141.2 L392.7,142.4 L393.7,143.6 L394.7,144.7 L395.7,145.9 L396.7,147.1 L397.7,148.3 L398.7,149.5 L399.7,150.7 L400.7,151.8 L401.7,153.0 L402.7,154.2 L403.7,155.4 L404.7,156.6 L405.7,157.8 L406.7,159.0 L407.7,160.1 L408.7,161.3 L409.7,162.5 L410.7,163.7 L411.7,164.8 L412.7,166.0 L413.7,167.2 L414.7,168.3 L415.7,169.5 L416.7,170.7 L417.7,171.8 L418.7,172.9 L419.7,174.1 L420.7,175.2 L421.7,176.3 L422.7,177.5 L423.7,178.6 L424.7,179.7 L425.7,180.8 L426.7,181.9 L427.7,183.0 L428.7,184.0 L429.7,185.1 L430.7,186.2 L431.7,187.2 L432.7,188.3 L433.7,189.3 L434.7,190.3 L435.7,191.4 L436.7,192.4 L437.7,193.4 L438.7,194.4 L439.7,195.4 L440.7,196.4 L441.7,197.4 L442.7,198.3 L443.7,199.3 L444.7,200.2 L445.7,201.2 L446.7,202.1 L447.7,203.1 L448.7,204.0 L449.7,204.9 L450.7,205.8 L451.7,206.7 L452.7,207.6 L453.7,208.5 L454.7,209.4 L455.7,210.3 L456.7,211.2 L457.7,212.0 L458.7,212.9 L459.7,213.7 L460.7,214.6 L461.7,215.4 L462.7,216.3 L463.7,217.0 L464.7,217.8 L465.7,218.6 L466.7,219.5 L467.7,220.2 L468.7,220.9 L469.7,221.8 L470.7,222.8 L471.7,223.5 L472.7,224.7 L473.7,225.1 L474.7,226.0 L475.7,225.7 L476.7,226.5 L477.7,227.7 L478.7,227.5 L479.7,228.7 L480.7,229.3 L481.7,230.0 L482.7,230.2 L483.7,232.0 L484.7,233.5 L485.7,233.8 L486.7,234.5 L487.7,234.4 L488.7,235.9 L489.7,235.8" stroke="#111" stroke-width="2.3"/>
<path d="M127.7,219.7 L128.7,215.2 L129.7,210.6 L130.7,206.2 L131.7,202.0 L132.7,197.7 L133.7,193.6 L134.7,189.6 L135.7,185.6 L136.7,181.7 L137.7,177.8 L138.7,174.1 L139.7,170.4 L140.7,166.7 L141.7,163.2 L142.7,159.6 L143.7,156.2 L144.7,152.8 L145.7,149.5 L146.7,146.3 L147.7,143.1 L148.7,139.9 L149.7,136.8 L150.7,133.8 L151.7,130.9 L152.7,127.9 L153.7,125.1 L154.7,122.3 L155.7,119.5 L156.7,116.8 L157.7,114.2 L158.7,111.6 L159.7,109.1 L160.7,106.6 L161.7,104.1 L162.7,101.7 L163.7,99.4 L164.7,97.1 L165.7,94.9 L166.7,92.7 L167.7,90.5 L168.7,88.4 L169.7,86.3 L170.7,84.3 L171.7,82.3 L172.7,80.4 L173.7,78.5 L174.7,76.7 L175.7,74.9 L176.7,73.1 L177.7,71.4 L178.7,69.7 L179.7,68.1 L180.7,66.5 L181.7,64.9 L182.7,63.4 L183.7,61.9 L184.7,60.5 L185.7,59.1 L186.7,57.7 L187.7,56.4 L188.7,55.1 L189.7,53.8 L190.7,52.6 L191.7,51.4 L192.7,50.3 L193.7,49.2 L194.7,48.1 L195.7,47.0 L196.7,46.0 L197.7,45.0 L198.7,44.1 L199.7,43.1 L200.7,42.3 L201.7,41.4 L202.7,40.6 L203.7,39.8 L204.7,39.0 L205.7,38.3 L206.7,37.5 L207.7,36.9 L208.7,36.2 L209.7,35.6 L210.7,35.0 L211.7,34.4 L212.7,33.8 L213.7,33.3 L214.7,32.8 L215.7,32.4 L216.7,31.9 L217.7,31.5 L218.7,31.1 L219.7,30.7 L220.7,30.3 L221.7,30.0 L222.7,29.7 L223.7,29.4 L224.7,29.1 L225.7,28.9 L226.7,28.7 L227.7,28.5 L228.7,28.3 L229.7,28.1 L230.7,28.0 L231.7,27.8 L232.7,27.7 L233.7,27.6 L234.7,27.5 L235.7,27.5 L236.7,27.4 L237.7,27.4 L238.7,27.4 L239.7,27.4 L240.7,27.4 L241.7,27.4 L242.7,27.5 L243.7,27.5 L244.7,27.6 L245.7,27.7 L246.7,27.8 L247.7,27.9 L248.7,28.0 L249.7,28.1 L250.7,28.2 L251.7,28.4 L252.7,28.6 L253.7,28.7 L254.7,28.9 L255.7,29.1 L256.7,29.3 L257.7,29.5 L258.7,29.7 L259.7,29.9 L260.7,30.1 L261.7,30.3 L262.7,30.5 L263.7,30.8 L264.7,31.0 L265.7,31.3 L266.7,31.5 L267.7,31.8 L268.7,32.0 L269.7,32.3 L270.7,32.6 L271.7,32.9 L272.7,33.2 L273.7,33.5 L274.7,33.8 L275.7,34.1 L276.7,34.4 L277.7,34.7 L278.7,35.1 L279.7,35.4 L280.7,35.8 L281.7,36.1 L282.7,36.5 L283.7,36.8 L284.7,37.2 L285.7,37.6 L286.7,38.0 L287.7,38.4 L288.7,38.7 L289.7,39.2 L290.7,39.6 L291.7,40.0 L292.7,40.4 L293.7,40.8 L294.7,41.3 L295.7,41.7 L296.7,42.2 L297.7,42.6 L298.7,43.1 L299.7,43.6 L300.7,44.1 L301.7,44.6 L302.7,45.1 L303.7,45.6 L304.7,46.1 L305.7,46.6 L306.7,47.1 L307.7,47.7 L308.7,48.2 L309.7,48.8 L310.7,49.3 L311.7,49.9 L312.7,50.4 L313.7,51.0 L314.7,51.6 L315.7,52.2 L316.7,52.8 L317.7,53.4 L318.7,54.0 L319.7,54.7 L320.7,55.3 L321.7,55.9 L322.7,56.6 L323.7,57.2 L324.7,57.9 L325.7,58.6 L326.7,59.3 L327.7,59.9 L328.7,60.6 L329.7,61.3 L330.7,62.1 L331.7,62.8 L332.7,63.5 L333.7,64.2 L334.7,65.0 L335.7,65.7 L336.7,66.5 L337.7,67.3 L338.7,68.0 L339.7,68.8 L340.7,69.6 L341.7,70.4 L342.7,71.2 L343.7,72.1 L344.7,72.9 L345.7,73.7 L346.7,74.6 L347.7,75.4 L348.7,76.3 L349.7,77.1 L350.7,78.0 L351.7,78.9 L352.7,79.8 L353.7,80.7 L354.7,81.6 L355.7,82.5 L356.7,83.5 L357.7,84.4 L358.7,85.4 L359.7,86.3 L360.7,87.3 L361.7,88.3 L362.7,89.3 L363.7,90.2 L364.7,91.2 L365.7,92.3 L366.7,93.3 L367.7,94.3 L368.7,95.3 L369.7,96.4 L370.7,97.4 L371.7,98.5 L372.7,99.6 L373.7,100.7 L374.7,101.8 L375.7,102.9 L376.7,104.0 L377.7,105.1 L378.7,106.2 L379.7,107.4 L380.7,108.5 L381.7,109.7 L382.7,110.8 L383.7,112.0 L384.7,113.2 L385.7,114.3 L386.7,115.5 L387.7,116.7 L388.7,117.9 L389.7,119.1 L390.7,120.3 L391.7,121.5 L392.7,122.7 L393.7,124.0 L394.7,125.2 L395.7,126.4 L396.7,127.6 L397.7,128.8 L398.7,129.9 L399.7,131.1 L400.7,132.3 L401.7,133.5 L402.7,134.7 L403.7,135.9 L404.7,137.1 L405.7,138.3 L406.7,139.6 L407.7,140.8 L408.7,142.0 L409.7,143.2 L410.7,144.4 L411.7,145.6 L412.7,146.8 L413.7,148.0 L414.7,149.2 L415.7,150.4 L416.7,151.6 L417.7,152.7 L418.7,153.9 L419.7,155.1 L420.7,156.3 L421.7,157.5 L422.7,158.6 L423.7,159.8 L424.7,161.0 L425.7,162.1 L426.7,163.3 L427.7,164.4 L428.7,165.6 L429.7,166.7 L430.7,167.8 L431.7,169.0 L432.7,170.1 L433.7,171.2 L434.7,172.3 L435.7,173.4 L436.7,174.5 L437.7,175.6 L438.7,176.7 L439.7,177.8 L440.7,178.9 L441.7,179.9 L442.7,181.0 L443.7,182.1 L444.7,183.1 L445.7,184.2 L446.7,185.2 L447.7,186.2 L448.7,187.3 L449.7,188.3 L450.7,189.3 L451.7,190.4 L452.7,191.4 L453.7,192.4 L454.7,193.4 L455.7,194.4 L456.7,195.4 L457.7,196.5 L458.7,197.5 L459.7,198.5 L460.7,199.5 L461.7,200.5 L462.7,201.6 L463.7,202.6 L464.7,203.5 L465.7,204.5 L466.7,205.5 L467.7,206.5 L468.7,207.5 L469.7,208.5 L470.7,209.4 L471.7,210.4 L472.7,211.3 L473.7,212.3 L474.7,213.2 L475.7,214.2 L476.7,215.1 L477.7,216.1 L478.7,217.0 L479.7,218.0 L480.7,219.0 L481.7,219.9 L482.7,220.8 L483.7,221.5 L484.7,222.5 L485.7,223.2 L486.7,224.6 L487.7,225.0 L488.7,226.2 L489.7,227.0" stroke="#111" stroke-width="2.3"/>
<path d="M128.3,204.9 L129.3,200.8 L130.3,196.7 L131.3,192.7 L132.3,188.7 L133.3,184.8 L134.3,180.9 L135.3,177.1 L136.3,173.4 L137.3,169.7 L138.3,166.1 L139.3,162.5 L140.3,159.0 L141.3,155.6 L142.3,152.2 L143.3,148.8 L144.3,145.6 L145.3,142.3 L146.3,139.1 L147.3,136.0 L148.3,132.9 L149.3,129.9 L150.3,126.9 L151.3,124.0 L152.3,121.2 L153.3,118.3 L154.3,115.6 L155.3,112.9 L156.3,110.2 L157.3,107.6 L158.3,105.0 L159.3,102.5 L160.3,100.0 L161.3,97.6 L162.3,95.2 L163.3,92.9 L164.3,90.6 L165.3,88.3 L166.3,86.2 L167.3,84.0 L168.3,81.9 L169.3,79.8 L170.3,77.8 L171.3,75.8 L172.3,73.9 L173.3,72.0 L174.3,70.2 L175.3,68.4 L176.3,66.6 L177.3,64.9 L178.3,63.2 L179.3,61.6 L180.3,59.9 L181.3,58.4 L182.3,56.9 L183.3,55.4 L184.3,53.9 L185.3,52.5 L186.3,51.1 L187.3,49.8 L188.3,48.5 L189.3,47.2 L190.3,46.0 L191.3,44.8 L192.3,43.6 L193.3,42.5 L194.3,41.4 L195.3,40.3 L196.3,39.3 L197.3,38.3 L198.3,37.4 L199.3,36.4 L200.3,35.5 L201.3,34.7 L202.3,33.8 L203.3,33.0 L204.3,32.2 L205.3,31.5 L206.3,30.7 L207.3,30.1 L208.3,29.4 L209.3,28.8 L210.3,28.1 L211.3,27.6 L212.3,27.0 L213.3,26.5 L214.3,26.0 L215.3,25.5 L216.3,25.0 L217.3,24.6 L218.3,24.2 L219.3,23.8 L220.3,23.4 L221.3,23.1 L222.3,22.8 L223.3,22.5 L224.3,22.2 L225.3,21.9 L226.3,21.7 L227.3,21.5 L228.3,21.3 L229.3,21.1 L230.3,21.0 L231.3,20.8 L232.3,20.7 L233.3,20.6 L234.3,20.5 L235.3,20.4 L236.3,20.4 L237.3,20.4 L238.3,20.3 L239.3,20.3 L240.3,20.3 L241.3,20.4 L242.3,20.4 L243.3,20.4 L244.3,20.5 L245.3,20.6 L246.3,20.7 L247.3,20.8 L248.3,20.9 L249.3,21.0 L250.3,21.1 L251.3,21.3 L252.3,21.4 L253.3,21.6 L254.3,21.8 L255.3,21.9 L256.3,22.1 L257.3,22.3 L258.3,22.5 L259.3,22.7 L260.3,22.9 L261.3,23.2 L262.3,23.4 L263.3,23.6 L264.3,23.9 L265.3,24.1 L266.3,24.4 L267.3,24.6 L268.3,24.9 L269.3,25.2 L270.3,25.4 L271.3,25.7 L272.3,26.0 L273.3,26.3 L274.3,26.6 L275.3,26.9 L276.3,27.2 L277.3,27.6 L278.3,27.9 L279.3,28.2 L280.3,28.6 L281.3,28.9 L282.3,29.3 L283.3,29.6 L284.3,30.0 L285.3,30.4 L286.3,30.7 L287.3,31.1 L288.3,31.5 L289.3,31.9 L290.3,32.3 L291.3,32.8 L292.3,33.2 L293.3,33.6 L294.3,34.1 L295.3,34.5 L296.3,34.9 L297.3,35.4 L298.3,35.9 L299.3,36.3 L300.3,36.8 L301.3,37.3 L302.3,37.8 L303.3,38.3 L304.3,38.8 L305.3,39.3 L306.3,39.9 L307.3,40.4 L308.3,40.9 L309.3,41.5 L310.3,42.0 L311.3,42.6 L312.3,43.2 L313.3,43.7 L314.3,44.3 L315.3,44.9 L316.3,45.5 L317.3,46.1 L318.3,46.7 L319.3,47.4 L320.3,48.0 L321.3,48.6 L322.3,49.3 L323.3,49.9 L324.3,50.6 L325.3,51.2 L326.3,51.9 L327.3,52.6 L328.3,53.3 L329.3,54.0 L330.3,54.7 L331.3,55.4 L332.3,56.2 L333.3,56.9 L334.3,57.6 L335.3,58.4 L336.3,59.1 L337.3,59.9 L338.3,60.7 L339.3,61.5 L340.3,62.2 L341.3,63.0 L342.3,63.9 L343.3,64.7 L344.3,65.5 L345.3,66.3 L346.3,67.2 L347.3,68.0 L348.3,68.9 L349.3,69.7 L350.3,70.6 L351.3,71.5 L352.3,72.4 L353.3,73.3 L354.3,74.2 L355.3,75.1 L356.3,76.1 L357.3,77.0 L358.3,77.9 L359.3,78.9 L360.3,79.8 L361.3,80.8 L362.3,81.8 L363.3,82.8 L364.3,83.8 L365.3,84.8 L366.3,85.8 L367.3,86.8 L368.3,87.9 L369.3,88.9 L370.3,90.0 L371.3,91.0 L372.3,92.1 L373.3,93.2 L374.3,94.3 L375.3,95.4 L376.3,96.5 L377.3,97.6 L378.3,98.7 L379.3,99.9 L380.3,101.0 L381.3,102.1 L382.3,103.3 L383.3,104.5 L384.3,105.6 L385.3,106.8 L386.3,108.0 L387.3,109.2 L388.3,110.4 L389.3,111.6 L390.3,112.8 L391.3,114.0 L392.3,115.2 L393.3,116.4 L394.3,117.6 L395.3,118.9 L396.3,120.1 L397.3,121.3 L398.3,122.5 L399.3,123.8 L400.3,125.0 L401.3,126.3 L402.3,127.5 L403.3,128.8 L404.3,130.0 L405.3,131.2 L406.3,132.5 L407.3,133.7 L408.3,135.0 L409.3,136.2 L410.3,137.5 L411.3,138.7 L412.3,140.0 L413.3,141.2 L414.3,142.4 L415.3,143.7 L416.3,144.9 L417.3,146.1 L418.3,147.4 L419.3,148.6 L420.3,149.8 L421.3,151.0 L422.3,152.3 L423.3,153.5 L424.3,154.7 L425.3,155.9 L426.3,157.1 L427.3,158.3 L428.3,159.5 L429.3,160.6 L430.3,161.8 L431.3,163.0 L432.3,164.1 L433.3,165.3 L434.3,166.5 L435.3,167.6 L436.3,168.7 L437.3,169.9 L438.3,171.0 L439.3,172.1 L440.3,173.3 L441.3,174.4 L442.3,175.5 L443.3,176.6 L444.3,177.7 L445.3,178.8 L446.3,179.9 L447.3,181.0 L448.3,182.0 L449.3,183.1 L450.3,184.2 L451.3,185.2 L452.3,186.3 L453.3,187.3 L454.3,188.4 L455.3,189.4 L456.3,190.5 L457.3,191.5 L458.3,192.5 L459.3,193.6 L460.3,194.6 L461.3,195.6 L462.3,196.6 L463.3,197.6 L464.3,198.6 L465.3,199.6 L466.3,200.6 L467.3,201.6 L468.3,202.5 L469.3,203.5 L470.3,204.5 L471.3,205.4 L472.3,206.4 L473.3,207.4 L474.3,208.3 L475.3,209.3 L476.3,210.2 L477.3,211.1 L478.3,212.1 L479.3,213.0 L480.3,213.9 L481.3,214.8 L482.3,215.8 L483.3,216.7 L484.3,217.6 L485.3,218.5 L486.3,219.4 L487.3,220.3 L488.3,221.1 L489.3,222.0" stroke="#e98b1e" stroke-width="2.8"/>
</g>
<g stroke="#1a1a1a" stroke-width="2.2" fill="none">
<path d="M127.7,16.7 V360.5 H600.5"/>
<path d="M120.7,47.3 H127.7"/>
<path d="M120.7,125.6 H127.7"/>
<path d="M120.7,203.9 H127.7"/>
<path d="M120.7,282.2 H127.7"/>
<path d="M120.7,360.5 H127.7"/>
<path d="M127.7,360.5 V368"/>
<path d="M245.9,360.5 V368"/>
<path d="M364.1,360.5 V368"/>
<path d="M482.3,360.5 V368"/>
<path d="M600.5,360.5 V368"/>
</g>
<path d="M393.1,11 V104" stroke="#1a1a1a" stroke-width="2"/>
<path d="M390.9,103.5 L395.3,103.5 L393.1,109 Z" fill="#1a1a1a" stroke="#1a1a1a" stroke-width="0.6" stroke-linejoin="round"/>
<g font-family='"Liberation Sans", sans-serif' font-size="19" fill="#1e1e1e" stroke="#1e1e1e" stroke-width="0.35">
<text transform="translate(106.8,56.9) scale(0.95,1)" font-size="20" text-anchor="end">1.0E+08</text>
<text transform="translate(106.8,135.2) scale(0.95,1)" font-size="20" text-anchor="end">1.0E+07</text>
<text transform="translate(106.8,213.5) scale(0.95,1)" font-size="20" text-anchor="end">1.0E+06</text>
<text transform="translate(106.8,291.8) scale(0.95,1)" font-size="20" text-anchor="end">1.0E+05</text>
<text transform="translate(106.8,370.1) scale(0.95,1)" font-size="20" text-anchor="end">1.0E+04</text>
<text transform="translate(127.7,405.8) scale(0.95,1)" font-size="20.3" text-anchor="middle">300</text>
<text transform="translate(245.9,405.8) scale(0.95,1)" font-size="20.3" text-anchor="middle">350</text>
<text transform="translate(364.1,405.8) scale(0.95,1)" font-size="20.3" text-anchor="middle">400</text>
<text transform="translate(482.3,405.8) scale(0.95,1)" font-size="20.3" text-anchor="middle">450</text>
<text transform="translate(600.5,405.8) scale(0.95,1)" font-size="20.3" text-anchor="middle">500</text>
<text x="400.8" y="37.4">pH = 1.0</text>
<text x="400.8" y="104">pH = 4.4</text>
<text x="317.3" y="430.8" font-size="21" font-style="italic">λ</text>
<text x="333.4" y="430.7" font-size="20.5">(nm)</text>
<text transform="translate(26,247.5) rotate(-90)" font-size="19.5" letter-spacing="0.6"><tspan font-style="italic">I</tspan> (a.u.)</text>
</g>
<rect x="391.5" y="201" width="227" height="158.3" fill="#fff" stroke="#c8c8c8" stroke-width="1.2"/>
<g stroke="#808080" stroke-width="1.3" fill="none">
<path d="M466,209.5 V316.3 H608"/>
<path d="M462,223.2 H466"/>
<path d="M462,269 H466"/>
<path d="M462,316.3 H466"/>
<path d="M465.8,316.3 V320"/>
<path d="M506.6,316.3 V320"/>
<path d="M547.6,316.3 V320"/>
<path d="M588.5,316.3 V320"/>
</g>
<rect x="466.8" y="213.7" width="4" height="4" fill="#000"/>
<rect x="493.8" y="231.0" width="4" height="4" fill="#000"/>
<rect x="504.2" y="268.3" width="4" height="4" fill="#000"/>
<rect x="513.0" y="289.4" width="4" height="4" fill="#000"/>
<rect x="522.5" y="301.1" width="4" height="4" fill="#000"/>
<rect x="531.0" y="306.0" width="4" height="4" fill="#000"/>
<rect x="538.6" y="309.2" width="4" height="4" fill="#000"/>
<rect x="547.3" y="310.9" width="4" height="4" fill="#000"/>
<rect x="556.0" y="312.2" width="4" height="4" fill="#000"/>
<rect x="564.7" y="312.8" width="4" height="4" fill="#000"/>
<rect x="575.9" y="313.3" width="4" height="4" fill="#000"/>
<rect x="590.6" y="313.6" width="4" height="4" fill="#000"/>
<rect x="603.6" y="313.9" width="4" height="4" fill="#000"/>
<g font-family='"Liberation Sans", sans-serif' font-size="11.5" fill="#333" stroke="#333" stroke-width="0.2">
<text x="452.8" y="230.2" text-anchor="end">2.0E+08</text>
<text x="452.8" y="276.0" text-anchor="end">1.0E+08</text>
<text x="452.8" y="323.3" text-anchor="end">1.0E+05</text>
<text x="465.8" y="344" text-anchor="middle">1</text>
<text x="506.6" y="344" text-anchor="middle">2</text>
<text x="547.6" y="344" text-anchor="middle">3</text>
<text x="588.5" y="344" text-anchor="middle">4</text>
<text x="534" y="357" text-anchor="middle">pH</text>
<text transform="translate(405,303.5) rotate(-90)" letter-spacing="0.4"><tspan font-style="italic">I</tspan><tspan font-size="8" dy="2.5">347nm</tspan><tspan dy="-2.5"> (a.u.)</tspan></text>
</g>
</svg>
</body></html>
